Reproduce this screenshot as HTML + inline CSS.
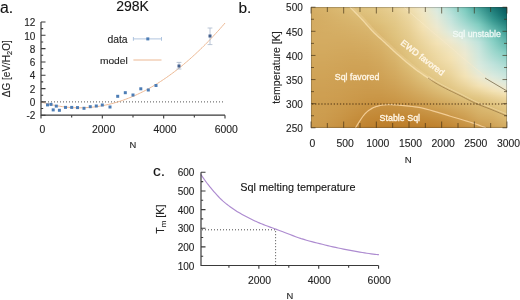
<!DOCTYPE html>
<html><head><meta charset="utf-8"><style>
html,body{margin:0;padding:0;background:#fff;width:520px;height:300px;overflow:hidden}
svg{display:block;will-change:transform}
.dk{stroke:#2a2a2a;stroke-width:0.12px}
</style></head><body>
<svg width="520" height="300" viewBox="0 0 520 300">
<defs><linearGradient id="g0"><stop offset="0.000" stop-color="#d6af65"/><stop offset="0.071" stop-color="#d8b46b"/><stop offset="0.143" stop-color="#dbba73"/><stop offset="0.214" stop-color="#dec07b"/><stop offset="0.286" stop-color="#e1c582"/><stop offset="0.357" stop-color="#e4ca8a"/><stop offset="0.429" stop-color="#e9d298"/><stop offset="0.500" stop-color="#f0dead"/><stop offset="0.571" stop-color="#efe7c9"/><stop offset="0.643" stop-color="#d7e9de"/><stop offset="0.714" stop-color="#abdcd3"/><stop offset="0.786" stop-color="#78c7bc"/><stop offset="0.857" stop-color="#42a198"/><stop offset="0.929" stop-color="#197774"/><stop offset="1.000" stop-color="#09565d"/></linearGradient><linearGradient id="g1"><stop offset="0.000" stop-color="#d5ae65"/><stop offset="0.071" stop-color="#d8b36b"/><stop offset="0.143" stop-color="#dbb972"/><stop offset="0.214" stop-color="#debf7a"/><stop offset="0.286" stop-color="#e0c481"/><stop offset="0.357" stop-color="#e3c989"/><stop offset="0.429" stop-color="#e8d196"/><stop offset="0.500" stop-color="#f0ddac"/><stop offset="0.571" stop-color="#efe7c7"/><stop offset="0.643" stop-color="#d9e9de"/><stop offset="0.714" stop-color="#adddd4"/><stop offset="0.786" stop-color="#7bc9bd"/><stop offset="0.857" stop-color="#46a39a"/><stop offset="0.929" stop-color="#1b7a76"/><stop offset="1.000" stop-color="#09585e"/></linearGradient><linearGradient id="g2"><stop offset="0.000" stop-color="#d5ae64"/><stop offset="0.071" stop-color="#d7b36a"/><stop offset="0.143" stop-color="#dab971"/><stop offset="0.214" stop-color="#ddbe79"/><stop offset="0.286" stop-color="#e0c480"/><stop offset="0.357" stop-color="#e3c888"/><stop offset="0.429" stop-color="#e8d095"/><stop offset="0.500" stop-color="#efdcaa"/><stop offset="0.571" stop-color="#efe7c6"/><stop offset="0.643" stop-color="#daeade"/><stop offset="0.714" stop-color="#afddd5"/><stop offset="0.786" stop-color="#7dcbbf"/><stop offset="0.857" stop-color="#49a59c"/><stop offset="0.929" stop-color="#1d7c78"/><stop offset="1.000" stop-color="#095a5f"/></linearGradient><linearGradient id="g3"><stop offset="0.000" stop-color="#d5ad64"/><stop offset="0.071" stop-color="#d7b269"/><stop offset="0.143" stop-color="#dab870"/><stop offset="0.214" stop-color="#ddbe78"/><stop offset="0.286" stop-color="#e0c37f"/><stop offset="0.357" stop-color="#e3c887"/><stop offset="0.429" stop-color="#e7cf94"/><stop offset="0.500" stop-color="#efdba9"/><stop offset="0.571" stop-color="#efe6c5"/><stop offset="0.643" stop-color="#dbeade"/><stop offset="0.714" stop-color="#b1ded6"/><stop offset="0.786" stop-color="#80cdc1"/><stop offset="0.857" stop-color="#4ca89f"/><stop offset="0.929" stop-color="#1f7e7a"/><stop offset="1.000" stop-color="#085c60"/></linearGradient><linearGradient id="g4"><stop offset="0.000" stop-color="#d5ad63"/><stop offset="0.071" stop-color="#d7b269"/><stop offset="0.143" stop-color="#dab770"/><stop offset="0.214" stop-color="#dcbd77"/><stop offset="0.286" stop-color="#dfc37e"/><stop offset="0.357" stop-color="#e2c786"/><stop offset="0.429" stop-color="#e7cf92"/><stop offset="0.500" stop-color="#eedba7"/><stop offset="0.571" stop-color="#f0e6c4"/><stop offset="0.643" stop-color="#ddeade"/><stop offset="0.714" stop-color="#b4dfd7"/><stop offset="0.786" stop-color="#83cec2"/><stop offset="0.857" stop-color="#50aaa1"/><stop offset="0.929" stop-color="#21817c"/><stop offset="1.000" stop-color="#085e61"/></linearGradient><linearGradient id="g5"><stop offset="0.000" stop-color="#d5ad63"/><stop offset="0.071" stop-color="#d7b168"/><stop offset="0.143" stop-color="#d9b76f"/><stop offset="0.214" stop-color="#dcbc76"/><stop offset="0.286" stop-color="#dfc27d"/><stop offset="0.357" stop-color="#e2c785"/><stop offset="0.429" stop-color="#e6ce91"/><stop offset="0.500" stop-color="#eedaa6"/><stop offset="0.571" stop-color="#f0e6c3"/><stop offset="0.643" stop-color="#deeadd"/><stop offset="0.714" stop-color="#b6e0d8"/><stop offset="0.786" stop-color="#85cfc3"/><stop offset="0.857" stop-color="#53ada3"/><stop offset="0.929" stop-color="#24837f"/><stop offset="1.000" stop-color="#086062"/></linearGradient><linearGradient id="g6"><stop offset="0.000" stop-color="#d4ac63"/><stop offset="0.071" stop-color="#d7b168"/><stop offset="0.143" stop-color="#d9b66e"/><stop offset="0.214" stop-color="#dcbb75"/><stop offset="0.286" stop-color="#dfc17c"/><stop offset="0.357" stop-color="#e2c684"/><stop offset="0.429" stop-color="#e6cd90"/><stop offset="0.500" stop-color="#edd9a4"/><stop offset="0.571" stop-color="#f0e5c1"/><stop offset="0.643" stop-color="#dfeadc"/><stop offset="0.714" stop-color="#b8e0d9"/><stop offset="0.786" stop-color="#88d0c4"/><stop offset="0.857" stop-color="#56afa5"/><stop offset="0.929" stop-color="#268681"/><stop offset="1.000" stop-color="#086263"/></linearGradient><linearGradient id="g7"><stop offset="0.000" stop-color="#d4ac62"/><stop offset="0.071" stop-color="#d6b067"/><stop offset="0.143" stop-color="#d9b56d"/><stop offset="0.214" stop-color="#dbba74"/><stop offset="0.286" stop-color="#dec07b"/><stop offset="0.357" stop-color="#e1c583"/><stop offset="0.429" stop-color="#e6cc8f"/><stop offset="0.500" stop-color="#edd8a3"/><stop offset="0.571" stop-color="#f0e5c0"/><stop offset="0.643" stop-color="#e0eadb"/><stop offset="0.714" stop-color="#bbe1da"/><stop offset="0.786" stop-color="#8ad0c5"/><stop offset="0.857" stop-color="#5ab2a8"/><stop offset="0.929" stop-color="#288983"/><stop offset="1.000" stop-color="#086464"/></linearGradient><linearGradient id="g8"><stop offset="0.000" stop-color="#d4ac62"/><stop offset="0.071" stop-color="#d6b067"/><stop offset="0.143" stop-color="#d8b56d"/><stop offset="0.214" stop-color="#dbba73"/><stop offset="0.286" stop-color="#debf7a"/><stop offset="0.357" stop-color="#e1c582"/><stop offset="0.429" stop-color="#e5cc8e"/><stop offset="0.500" stop-color="#ecd8a2"/><stop offset="0.571" stop-color="#f1e5bf"/><stop offset="0.643" stop-color="#e1eada"/><stop offset="0.714" stop-color="#bde2db"/><stop offset="0.786" stop-color="#8dd1c6"/><stop offset="0.857" stop-color="#5db4aa"/><stop offset="0.929" stop-color="#2b8b85"/><stop offset="1.000" stop-color="#0a6666"/></linearGradient><linearGradient id="g9"><stop offset="0.000" stop-color="#d4ac62"/><stop offset="0.071" stop-color="#d6b066"/><stop offset="0.143" stop-color="#d8b46c"/><stop offset="0.214" stop-color="#dab972"/><stop offset="0.286" stop-color="#ddbe79"/><stop offset="0.357" stop-color="#e0c481"/><stop offset="0.429" stop-color="#e5cb8d"/><stop offset="0.500" stop-color="#ecd7a1"/><stop offset="0.571" stop-color="#f1e5be"/><stop offset="0.643" stop-color="#e2ead9"/><stop offset="0.714" stop-color="#bfe3dc"/><stop offset="0.786" stop-color="#8fd2c7"/><stop offset="0.857" stop-color="#61b7ac"/><stop offset="0.929" stop-color="#2d8e88"/><stop offset="1.000" stop-color="#0d6968"/></linearGradient><linearGradient id="g10"><stop offset="0.000" stop-color="#d4ac62"/><stop offset="0.071" stop-color="#d6af66"/><stop offset="0.143" stop-color="#d8b46b"/><stop offset="0.214" stop-color="#dab871"/><stop offset="0.286" stop-color="#ddbe77"/><stop offset="0.357" stop-color="#e0c480"/><stop offset="0.429" stop-color="#e4cb8c"/><stop offset="0.500" stop-color="#ecd6a0"/><stop offset="0.571" stop-color="#f1e4bd"/><stop offset="0.643" stop-color="#e3ead9"/><stop offset="0.714" stop-color="#c1e3dc"/><stop offset="0.786" stop-color="#92d3c9"/><stop offset="0.857" stop-color="#65b9af"/><stop offset="0.929" stop-color="#30918a"/><stop offset="1.000" stop-color="#0f6c6b"/></linearGradient><linearGradient id="g11"><stop offset="0.000" stop-color="#d4ac61"/><stop offset="0.071" stop-color="#d6af66"/><stop offset="0.143" stop-color="#d8b36b"/><stop offset="0.214" stop-color="#dab770"/><stop offset="0.286" stop-color="#dcbd76"/><stop offset="0.357" stop-color="#e0c37f"/><stop offset="0.429" stop-color="#e4ca8b"/><stop offset="0.500" stop-color="#ebd69f"/><stop offset="0.571" stop-color="#f1e4bc"/><stop offset="0.643" stop-color="#e4ead8"/><stop offset="0.714" stop-color="#c3e4dc"/><stop offset="0.786" stop-color="#95d4ca"/><stop offset="0.857" stop-color="#68bcb1"/><stop offset="0.929" stop-color="#32948c"/><stop offset="1.000" stop-color="#126f6d"/></linearGradient><linearGradient id="g12"><stop offset="0.000" stop-color="#d4ab61"/><stop offset="0.071" stop-color="#d6af65"/><stop offset="0.143" stop-color="#d7b36a"/><stop offset="0.214" stop-color="#d9b76f"/><stop offset="0.286" stop-color="#dcbc75"/><stop offset="0.357" stop-color="#e0c37e"/><stop offset="0.429" stop-color="#e4ca8a"/><stop offset="0.500" stop-color="#ebd59e"/><stop offset="0.571" stop-color="#f1e4bb"/><stop offset="0.643" stop-color="#e5e9d7"/><stop offset="0.714" stop-color="#c4e4dc"/><stop offset="0.786" stop-color="#98d5cb"/><stop offset="0.857" stop-color="#6cbfb4"/><stop offset="0.929" stop-color="#35978f"/><stop offset="1.000" stop-color="#157270"/></linearGradient><linearGradient id="g13"><stop offset="0.000" stop-color="#d4ab61"/><stop offset="0.071" stop-color="#d5ae65"/><stop offset="0.143" stop-color="#d7b269"/><stop offset="0.214" stop-color="#d9b66e"/><stop offset="0.286" stop-color="#dcbb74"/><stop offset="0.357" stop-color="#dfc27e"/><stop offset="0.429" stop-color="#e3c989"/><stop offset="0.500" stop-color="#ead49d"/><stop offset="0.571" stop-color="#f2e4ba"/><stop offset="0.643" stop-color="#e6e9d6"/><stop offset="0.714" stop-color="#c6e4dc"/><stop offset="0.786" stop-color="#9ad6cc"/><stop offset="0.857" stop-color="#70c1b6"/><stop offset="0.929" stop-color="#399a92"/><stop offset="1.000" stop-color="#187673"/></linearGradient><linearGradient id="g14"><stop offset="0.000" stop-color="#d4ab61"/><stop offset="0.071" stop-color="#d5ae65"/><stop offset="0.143" stop-color="#d7b269"/><stop offset="0.214" stop-color="#d9b56d"/><stop offset="0.286" stop-color="#dbba73"/><stop offset="0.357" stop-color="#dfc27d"/><stop offset="0.429" stop-color="#e3c888"/><stop offset="0.500" stop-color="#ead49b"/><stop offset="0.571" stop-color="#f2e3b9"/><stop offset="0.643" stop-color="#e7e9d5"/><stop offset="0.714" stop-color="#c8e5dd"/><stop offset="0.786" stop-color="#9dd7cd"/><stop offset="0.857" stop-color="#74c4b9"/><stop offset="0.929" stop-color="#3d9d94"/><stop offset="1.000" stop-color="#1b7976"/></linearGradient><linearGradient id="g15"><stop offset="0.000" stop-color="#d4ab61"/><stop offset="0.071" stop-color="#d5ae64"/><stop offset="0.143" stop-color="#d7b168"/><stop offset="0.214" stop-color="#d8b56d"/><stop offset="0.286" stop-color="#dbb972"/><stop offset="0.357" stop-color="#dec17c"/><stop offset="0.429" stop-color="#e3c887"/><stop offset="0.500" stop-color="#ead39a"/><stop offset="0.571" stop-color="#f2e3b8"/><stop offset="0.643" stop-color="#e8e9d4"/><stop offset="0.714" stop-color="#c9e5dd"/><stop offset="0.786" stop-color="#a0d8cf"/><stop offset="0.857" stop-color="#78c7bb"/><stop offset="0.929" stop-color="#42a097"/><stop offset="1.000" stop-color="#1e7d79"/></linearGradient><linearGradient id="g16"><stop offset="0.000" stop-color="#d4ab61"/><stop offset="0.071" stop-color="#d5ae64"/><stop offset="0.143" stop-color="#d7b168"/><stop offset="0.214" stop-color="#d8b46c"/><stop offset="0.286" stop-color="#dab971"/><stop offset="0.357" stop-color="#dec07b"/><stop offset="0.429" stop-color="#e2c786"/><stop offset="0.500" stop-color="#e9d39a"/><stop offset="0.571" stop-color="#f2e3b7"/><stop offset="0.643" stop-color="#e9e9d3"/><stop offset="0.714" stop-color="#cbe6dd"/><stop offset="0.786" stop-color="#a4d9d0"/><stop offset="0.857" stop-color="#7ccabe"/><stop offset="0.929" stop-color="#46a39a"/><stop offset="1.000" stop-color="#21807c"/></linearGradient><linearGradient id="g17"><stop offset="0.000" stop-color="#d4ab61"/><stop offset="0.071" stop-color="#d5ae64"/><stop offset="0.143" stop-color="#d6b067"/><stop offset="0.214" stop-color="#d8b46b"/><stop offset="0.286" stop-color="#dab871"/><stop offset="0.357" stop-color="#debf79"/><stop offset="0.429" stop-color="#e2c786"/><stop offset="0.500" stop-color="#e9d299"/><stop offset="0.571" stop-color="#f3e3b6"/><stop offset="0.643" stop-color="#eae9d2"/><stop offset="0.714" stop-color="#cde6dd"/><stop offset="0.786" stop-color="#a7dad1"/><stop offset="0.857" stop-color="#80cdc1"/><stop offset="0.929" stop-color="#4aa69d"/><stop offset="1.000" stop-color="#24847f"/></linearGradient><linearGradient id="g18"><stop offset="0.000" stop-color="#d4ab61"/><stop offset="0.071" stop-color="#d5ad64"/><stop offset="0.143" stop-color="#d6b067"/><stop offset="0.214" stop-color="#d8b36b"/><stop offset="0.286" stop-color="#dab770"/><stop offset="0.357" stop-color="#ddbe78"/><stop offset="0.429" stop-color="#e2c785"/><stop offset="0.500" stop-color="#e9d198"/><stop offset="0.571" stop-color="#f3e2b5"/><stop offset="0.643" stop-color="#ebe9d1"/><stop offset="0.714" stop-color="#cfe7dd"/><stop offset="0.786" stop-color="#aadbd3"/><stop offset="0.857" stop-color="#83cec2"/><stop offset="0.929" stop-color="#4faaa0"/><stop offset="1.000" stop-color="#278782"/></linearGradient><linearGradient id="g19"><stop offset="0.000" stop-color="#d4ab61"/><stop offset="0.071" stop-color="#d5ad64"/><stop offset="0.143" stop-color="#d6b066"/><stop offset="0.214" stop-color="#d7b26a"/><stop offset="0.286" stop-color="#d9b66f"/><stop offset="0.357" stop-color="#ddbd77"/><stop offset="0.429" stop-color="#e2c684"/><stop offset="0.500" stop-color="#e8d197"/><stop offset="0.571" stop-color="#f3e2b4"/><stop offset="0.643" stop-color="#ece9d0"/><stop offset="0.714" stop-color="#d1e7dd"/><stop offset="0.786" stop-color="#aeddd4"/><stop offset="0.857" stop-color="#87cfc4"/><stop offset="0.929" stop-color="#53ada3"/><stop offset="1.000" stop-color="#2a8b85"/></linearGradient><linearGradient id="g20"><stop offset="0.000" stop-color="#d4ab61"/><stop offset="0.071" stop-color="#d5ad63"/><stop offset="0.143" stop-color="#d6af66"/><stop offset="0.214" stop-color="#d7b269"/><stop offset="0.286" stop-color="#d9b66e"/><stop offset="0.357" stop-color="#dcbd76"/><stop offset="0.429" stop-color="#e1c683"/><stop offset="0.500" stop-color="#e8d096"/><stop offset="0.571" stop-color="#f3e1b3"/><stop offset="0.643" stop-color="#ede9cf"/><stop offset="0.714" stop-color="#d3e8dd"/><stop offset="0.786" stop-color="#b1ded6"/><stop offset="0.857" stop-color="#8bd1c5"/><stop offset="0.929" stop-color="#57b0a6"/><stop offset="1.000" stop-color="#2d8e87"/></linearGradient><linearGradient id="g21"><stop offset="0.000" stop-color="#d4ab61"/><stop offset="0.071" stop-color="#d5ad63"/><stop offset="0.143" stop-color="#d6af65"/><stop offset="0.214" stop-color="#d7b169"/><stop offset="0.286" stop-color="#d9b56d"/><stop offset="0.357" stop-color="#dcbc75"/><stop offset="0.429" stop-color="#e1c582"/><stop offset="0.500" stop-color="#e8d095"/><stop offset="0.571" stop-color="#f2e0b1"/><stop offset="0.643" stop-color="#eee8cd"/><stop offset="0.714" stop-color="#d5e8de"/><stop offset="0.786" stop-color="#b5dfd7"/><stop offset="0.857" stop-color="#8ed2c7"/><stop offset="0.929" stop-color="#5cb3a9"/><stop offset="1.000" stop-color="#30918a"/></linearGradient><linearGradient id="g22"><stop offset="0.000" stop-color="#d4ab61"/><stop offset="0.071" stop-color="#d5ad63"/><stop offset="0.143" stop-color="#d5af65"/><stop offset="0.214" stop-color="#d7b168"/><stop offset="0.286" stop-color="#d8b56c"/><stop offset="0.357" stop-color="#dcbb75"/><stop offset="0.429" stop-color="#e1c582"/><stop offset="0.500" stop-color="#e7cf94"/><stop offset="0.571" stop-color="#f2e0b0"/><stop offset="0.643" stop-color="#eee8cc"/><stop offset="0.714" stop-color="#d7e9de"/><stop offset="0.786" stop-color="#b9e1d9"/><stop offset="0.857" stop-color="#92d3c9"/><stop offset="0.929" stop-color="#60b6ac"/><stop offset="1.000" stop-color="#33958d"/></linearGradient><linearGradient id="g23"><stop offset="0.000" stop-color="#d4ab61"/><stop offset="0.071" stop-color="#d5ad63"/><stop offset="0.143" stop-color="#d5ae65"/><stop offset="0.214" stop-color="#d6b067"/><stop offset="0.286" stop-color="#d8b46c"/><stop offset="0.357" stop-color="#dbba74"/><stop offset="0.429" stop-color="#e0c481"/><stop offset="0.500" stop-color="#e7cf93"/><stop offset="0.571" stop-color="#f1dfaf"/><stop offset="0.643" stop-color="#eee7ca"/><stop offset="0.714" stop-color="#dae9de"/><stop offset="0.786" stop-color="#bde2db"/><stop offset="0.857" stop-color="#96d4ca"/><stop offset="0.929" stop-color="#64b9ae"/><stop offset="1.000" stop-color="#369890"/></linearGradient><linearGradient id="g24"><stop offset="0.000" stop-color="#d4ab61"/><stop offset="0.071" stop-color="#d4ad63"/><stop offset="0.143" stop-color="#d5ae64"/><stop offset="0.214" stop-color="#d6b067"/><stop offset="0.286" stop-color="#d8b36b"/><stop offset="0.357" stop-color="#dbba73"/><stop offset="0.429" stop-color="#e0c480"/><stop offset="0.500" stop-color="#e7ce92"/><stop offset="0.571" stop-color="#f1dead"/><stop offset="0.643" stop-color="#efe7c8"/><stop offset="0.714" stop-color="#dceade"/><stop offset="0.786" stop-color="#c1e3dc"/><stop offset="0.857" stop-color="#99d6cc"/><stop offset="0.929" stop-color="#68bcb1"/><stop offset="1.000" stop-color="#3b9b93"/></linearGradient><linearGradient id="g25"><stop offset="0.000" stop-color="#d4ab61"/><stop offset="0.071" stop-color="#d4ac62"/><stop offset="0.143" stop-color="#d5ae64"/><stop offset="0.214" stop-color="#d6af66"/><stop offset="0.286" stop-color="#d7b36a"/><stop offset="0.357" stop-color="#dbb972"/><stop offset="0.429" stop-color="#e0c480"/><stop offset="0.500" stop-color="#e6ce91"/><stop offset="0.571" stop-color="#f0ddac"/><stop offset="0.643" stop-color="#efe7c7"/><stop offset="0.714" stop-color="#deeadd"/><stop offset="0.786" stop-color="#c4e4dc"/><stop offset="0.857" stop-color="#9dd7cd"/><stop offset="0.929" stop-color="#6cbfb4"/><stop offset="1.000" stop-color="#3f9e96"/></linearGradient><linearGradient id="g26"><stop offset="0.000" stop-color="#d4ab61"/><stop offset="0.071" stop-color="#d4ac62"/><stop offset="0.143" stop-color="#d5ad63"/><stop offset="0.214" stop-color="#d6af66"/><stop offset="0.286" stop-color="#d7b269"/><stop offset="0.357" stop-color="#dab871"/><stop offset="0.429" stop-color="#e0c37f"/><stop offset="0.500" stop-color="#e6cd90"/><stop offset="0.571" stop-color="#f0dcaa"/><stop offset="0.643" stop-color="#efe6c5"/><stop offset="0.714" stop-color="#e0eadb"/><stop offset="0.786" stop-color="#c6e5dc"/><stop offset="0.857" stop-color="#a1d8cf"/><stop offset="0.929" stop-color="#70c1b6"/><stop offset="1.000" stop-color="#43a198"/></linearGradient><linearGradient id="g27"><stop offset="0.000" stop-color="#d4ab61"/><stop offset="0.071" stop-color="#d4ac62"/><stop offset="0.143" stop-color="#d5ad63"/><stop offset="0.214" stop-color="#d5ae65"/><stop offset="0.286" stop-color="#d7b169"/><stop offset="0.357" stop-color="#dab870"/><stop offset="0.429" stop-color="#dfc37e"/><stop offset="0.500" stop-color="#e6cd90"/><stop offset="0.571" stop-color="#efdca9"/><stop offset="0.643" stop-color="#f0e6c3"/><stop offset="0.714" stop-color="#e1eada"/><stop offset="0.786" stop-color="#c9e5dd"/><stop offset="0.857" stop-color="#a5dad0"/><stop offset="0.929" stop-color="#73c4b9"/><stop offset="1.000" stop-color="#46a49b"/></linearGradient><linearGradient id="g28"><stop offset="0.000" stop-color="#d4ab61"/><stop offset="0.071" stop-color="#d4ac62"/><stop offset="0.143" stop-color="#d4ad63"/><stop offset="0.214" stop-color="#d5ae64"/><stop offset="0.286" stop-color="#d7b168"/><stop offset="0.357" stop-color="#dab76f"/><stop offset="0.429" stop-color="#dfc27e"/><stop offset="0.500" stop-color="#e5cc8f"/><stop offset="0.571" stop-color="#efdba8"/><stop offset="0.643" stop-color="#f0e5c1"/><stop offset="0.714" stop-color="#e3ead8"/><stop offset="0.786" stop-color="#cce6dd"/><stop offset="0.857" stop-color="#a8dbd2"/><stop offset="0.929" stop-color="#77c6bb"/><stop offset="1.000" stop-color="#4aa69d"/></linearGradient><linearGradient id="g29"><stop offset="0.000" stop-color="#d4ab61"/><stop offset="0.071" stop-color="#d4ac62"/><stop offset="0.143" stop-color="#d4ac62"/><stop offset="0.214" stop-color="#d5ae64"/><stop offset="0.286" stop-color="#d6b067"/><stop offset="0.357" stop-color="#d9b66f"/><stop offset="0.429" stop-color="#dfc27d"/><stop offset="0.500" stop-color="#e5cc8e"/><stop offset="0.571" stop-color="#eedaa6"/><stop offset="0.643" stop-color="#f1e5bf"/><stop offset="0.714" stop-color="#e5e9d6"/><stop offset="0.786" stop-color="#cfe7dd"/><stop offset="0.857" stop-color="#acdcd3"/><stop offset="0.929" stop-color="#7ac9bd"/><stop offset="1.000" stop-color="#4da89f"/></linearGradient><linearGradient id="g30"><stop offset="0.000" stop-color="#d4ab61"/><stop offset="0.071" stop-color="#d4ac62"/><stop offset="0.143" stop-color="#d4ac62"/><stop offset="0.214" stop-color="#d5ad63"/><stop offset="0.286" stop-color="#d6b067"/><stop offset="0.357" stop-color="#d9b66e"/><stop offset="0.429" stop-color="#dfc17c"/><stop offset="0.500" stop-color="#e5cb8d"/><stop offset="0.571" stop-color="#eed9a5"/><stop offset="0.643" stop-color="#f1e4be"/><stop offset="0.714" stop-color="#e7e9d5"/><stop offset="0.786" stop-color="#d2e7dd"/><stop offset="0.857" stop-color="#afddd5"/><stop offset="0.929" stop-color="#7ecbbf"/><stop offset="1.000" stop-color="#50aaa1"/></linearGradient><linearGradient id="g31"><stop offset="0.000" stop-color="#d4ab61"/><stop offset="0.071" stop-color="#d4ac61"/><stop offset="0.143" stop-color="#d4ac61"/><stop offset="0.214" stop-color="#d4ad63"/><stop offset="0.286" stop-color="#d6af66"/><stop offset="0.357" stop-color="#d9b56d"/><stop offset="0.429" stop-color="#dec17b"/><stop offset="0.500" stop-color="#e5cb8c"/><stop offset="0.571" stop-color="#edd9a4"/><stop offset="0.643" stop-color="#f1e4bc"/><stop offset="0.714" stop-color="#e9e9d3"/><stop offset="0.786" stop-color="#d5e8dd"/><stop offset="0.857" stop-color="#b3ded6"/><stop offset="0.929" stop-color="#81cdc1"/><stop offset="1.000" stop-color="#53ada3"/></linearGradient><linearGradient id="g32"><stop offset="0.000" stop-color="#d4ab61"/><stop offset="0.071" stop-color="#d4ab61"/><stop offset="0.143" stop-color="#d4ab61"/><stop offset="0.214" stop-color="#d4ac62"/><stop offset="0.286" stop-color="#d6af65"/><stop offset="0.357" stop-color="#d8b46c"/><stop offset="0.429" stop-color="#dec07a"/><stop offset="0.500" stop-color="#e4ca8b"/><stop offset="0.571" stop-color="#edd8a2"/><stop offset="0.643" stop-color="#f2e4ba"/><stop offset="0.714" stop-color="#ebe9d2"/><stop offset="0.786" stop-color="#d8e9de"/><stop offset="0.857" stop-color="#b6e0d8"/><stop offset="0.929" stop-color="#83cec2"/><stop offset="1.000" stop-color="#56afa5"/></linearGradient><linearGradient id="g33"><stop offset="0.000" stop-color="#d4ab61"/><stop offset="0.071" stop-color="#d4ab61"/><stop offset="0.143" stop-color="#d4ab61"/><stop offset="0.214" stop-color="#d4ac62"/><stop offset="0.286" stop-color="#d5ae65"/><stop offset="0.357" stop-color="#d8b46c"/><stop offset="0.429" stop-color="#debf7a"/><stop offset="0.500" stop-color="#e4ca8b"/><stop offset="0.571" stop-color="#ecd7a1"/><stop offset="0.643" stop-color="#f2e3b9"/><stop offset="0.714" stop-color="#ede9d0"/><stop offset="0.786" stop-color="#daeade"/><stop offset="0.857" stop-color="#b9e1d9"/><stop offset="0.929" stop-color="#86cfc3"/><stop offset="1.000" stop-color="#59b1a7"/></linearGradient><linearGradient id="g34"><stop offset="0.000" stop-color="#d4ab60"/><stop offset="0.071" stop-color="#d4ab61"/><stop offset="0.143" stop-color="#d4ab60"/><stop offset="0.214" stop-color="#d4ab61"/><stop offset="0.286" stop-color="#d5ae64"/><stop offset="0.357" stop-color="#d8b36b"/><stop offset="0.429" stop-color="#ddbe79"/><stop offset="0.500" stop-color="#e4ca8a"/><stop offset="0.571" stop-color="#ecd6a0"/><stop offset="0.643" stop-color="#f2e3b7"/><stop offset="0.714" stop-color="#ede9ce"/><stop offset="0.786" stop-color="#ddeadd"/><stop offset="0.857" stop-color="#bde2db"/><stop offset="0.929" stop-color="#88d0c5"/><stop offset="1.000" stop-color="#5cb3a9"/></linearGradient><linearGradient id="g35"><stop offset="0.000" stop-color="#d4ab60"/><stop offset="0.071" stop-color="#d4ab61"/><stop offset="0.143" stop-color="#d3aa60"/><stop offset="0.214" stop-color="#d4ab61"/><stop offset="0.286" stop-color="#d5ad63"/><stop offset="0.357" stop-color="#d7b36a"/><stop offset="0.429" stop-color="#ddbe78"/><stop offset="0.500" stop-color="#e3c989"/><stop offset="0.571" stop-color="#ebd69f"/><stop offset="0.643" stop-color="#f3e2b6"/><stop offset="0.714" stop-color="#eee8cc"/><stop offset="0.786" stop-color="#dfeadc"/><stop offset="0.857" stop-color="#c0e3dc"/><stop offset="0.929" stop-color="#8bd1c6"/><stop offset="1.000" stop-color="#5eb5ab"/></linearGradient><linearGradient id="g36"><stop offset="0.000" stop-color="#d3ab60"/><stop offset="0.071" stop-color="#d4ab60"/><stop offset="0.143" stop-color="#d3aa60"/><stop offset="0.214" stop-color="#d3aa60"/><stop offset="0.286" stop-color="#d4ad63"/><stop offset="0.357" stop-color="#d7b269"/><stop offset="0.429" stop-color="#ddbd77"/><stop offset="0.500" stop-color="#e3c988"/><stop offset="0.571" stop-color="#ebd59e"/><stop offset="0.643" stop-color="#f3e2b4"/><stop offset="0.714" stop-color="#eee7ca"/><stop offset="0.786" stop-color="#e0eada"/><stop offset="0.857" stop-color="#c1e3dc"/><stop offset="0.929" stop-color="#8dd2c7"/><stop offset="1.000" stop-color="#61b7ac"/></linearGradient><linearGradient id="g37"><stop offset="0.000" stop-color="#d3aa60"/><stop offset="0.071" stop-color="#d3ab60"/><stop offset="0.143" stop-color="#d3aa5f"/><stop offset="0.214" stop-color="#d3aa60"/><stop offset="0.286" stop-color="#d4ac62"/><stop offset="0.357" stop-color="#d7b269"/><stop offset="0.429" stop-color="#dcbc76"/><stop offset="0.500" stop-color="#e3c888"/><stop offset="0.571" stop-color="#ead49d"/><stop offset="0.643" stop-color="#f3e1b3"/><stop offset="0.714" stop-color="#efe7c7"/><stop offset="0.786" stop-color="#e2ead9"/><stop offset="0.857" stop-color="#c3e4dc"/><stop offset="0.929" stop-color="#8fd2c8"/><stop offset="1.000" stop-color="#64b9ae"/></linearGradient><linearGradient id="g38"><stop offset="0.000" stop-color="#d3aa60"/><stop offset="0.071" stop-color="#d3aa60"/><stop offset="0.143" stop-color="#d3aa5f"/><stop offset="0.214" stop-color="#d3aa5f"/><stop offset="0.286" stop-color="#d4ac61"/><stop offset="0.357" stop-color="#d7b168"/><stop offset="0.429" stop-color="#dcbc75"/><stop offset="0.500" stop-color="#e3c887"/><stop offset="0.571" stop-color="#ead49b"/><stop offset="0.643" stop-color="#f2e0b1"/><stop offset="0.714" stop-color="#efe6c5"/><stop offset="0.786" stop-color="#e3ead8"/><stop offset="0.857" stop-color="#c5e4dc"/><stop offset="0.929" stop-color="#92d3c8"/><stop offset="1.000" stop-color="#67bbb0"/></linearGradient><linearGradient id="g39"><stop offset="0.000" stop-color="#d3aa5f"/><stop offset="0.071" stop-color="#d3aa60"/><stop offset="0.143" stop-color="#d3a95f"/><stop offset="0.214" stop-color="#d3a95f"/><stop offset="0.286" stop-color="#d4ab61"/><stop offset="0.357" stop-color="#d6b067"/><stop offset="0.429" stop-color="#dcbb75"/><stop offset="0.500" stop-color="#e2c786"/><stop offset="0.571" stop-color="#ead39a"/><stop offset="0.643" stop-color="#f1dfaf"/><stop offset="0.714" stop-color="#f0e6c3"/><stop offset="0.786" stop-color="#e5e9d7"/><stop offset="0.857" stop-color="#c6e5dc"/><stop offset="0.929" stop-color="#94d4c9"/><stop offset="1.000" stop-color="#6abdb2"/></linearGradient><linearGradient id="g40"><stop offset="0.000" stop-color="#d3aa5f"/><stop offset="0.071" stop-color="#d3aa5f"/><stop offset="0.143" stop-color="#d3a95e"/><stop offset="0.214" stop-color="#d3a95e"/><stop offset="0.286" stop-color="#d3ab60"/><stop offset="0.357" stop-color="#d6b067"/><stop offset="0.429" stop-color="#dbba74"/><stop offset="0.500" stop-color="#e2c785"/><stop offset="0.571" stop-color="#e9d399"/><stop offset="0.643" stop-color="#f1deae"/><stop offset="0.714" stop-color="#f0e5c2"/><stop offset="0.786" stop-color="#e6e9d6"/><stop offset="0.857" stop-color="#c7e5dd"/><stop offset="0.929" stop-color="#96d5ca"/><stop offset="1.000" stop-color="#6dc0b5"/></linearGradient><linearGradient id="g41"><stop offset="0.000" stop-color="#d3aa5f"/><stop offset="0.071" stop-color="#d3aa5f"/><stop offset="0.143" stop-color="#d3a95e"/><stop offset="0.214" stop-color="#d2a85d"/><stop offset="0.286" stop-color="#d3aa60"/><stop offset="0.357" stop-color="#d6af66"/><stop offset="0.429" stop-color="#dbba73"/><stop offset="0.500" stop-color="#e2c685"/><stop offset="0.571" stop-color="#e9d298"/><stop offset="0.643" stop-color="#f0deac"/><stop offset="0.714" stop-color="#f0e5c0"/><stop offset="0.786" stop-color="#e7e9d5"/><stop offset="0.857" stop-color="#c9e5dd"/><stop offset="0.929" stop-color="#98d5cb"/><stop offset="1.000" stop-color="#71c2b7"/></linearGradient><linearGradient id="g42"><stop offset="0.000" stop-color="#d3a95f"/><stop offset="0.071" stop-color="#d3aa5f"/><stop offset="0.143" stop-color="#d2a85d"/><stop offset="0.214" stop-color="#d2a85d"/><stop offset="0.286" stop-color="#d3aa5f"/><stop offset="0.357" stop-color="#d6af65"/><stop offset="0.429" stop-color="#dbb972"/><stop offset="0.500" stop-color="#e2c684"/><stop offset="0.571" stop-color="#e9d197"/><stop offset="0.643" stop-color="#f0ddab"/><stop offset="0.714" stop-color="#f1e5be"/><stop offset="0.786" stop-color="#e8e9d4"/><stop offset="0.857" stop-color="#cae5dd"/><stop offset="0.929" stop-color="#9bd6cc"/><stop offset="1.000" stop-color="#74c5b9"/></linearGradient><linearGradient id="g43"><stop offset="0.000" stop-color="#d3a95e"/><stop offset="0.071" stop-color="#d3a95f"/><stop offset="0.143" stop-color="#d2a85d"/><stop offset="0.214" stop-color="#d2a85d"/><stop offset="0.286" stop-color="#d3a95e"/><stop offset="0.357" stop-color="#d5ae65"/><stop offset="0.429" stop-color="#dab971"/><stop offset="0.500" stop-color="#e1c683"/><stop offset="0.571" stop-color="#e8d197"/><stop offset="0.643" stop-color="#efdcaa"/><stop offset="0.714" stop-color="#f1e4bd"/><stop offset="0.786" stop-color="#e9e9d3"/><stop offset="0.857" stop-color="#cbe6dd"/><stop offset="0.929" stop-color="#9dd7cd"/><stop offset="1.000" stop-color="#78c7bc"/></linearGradient><linearGradient id="g44"><stop offset="0.000" stop-color="#d3a95e"/><stop offset="0.071" stop-color="#d3a95e"/><stop offset="0.143" stop-color="#d2a85d"/><stop offset="0.214" stop-color="#d2a75c"/><stop offset="0.286" stop-color="#d3a95e"/><stop offset="0.357" stop-color="#d5ae64"/><stop offset="0.429" stop-color="#dab871"/><stop offset="0.500" stop-color="#e1c583"/><stop offset="0.571" stop-color="#e8d096"/><stop offset="0.643" stop-color="#efdba9"/><stop offset="0.714" stop-color="#f1e4bc"/><stop offset="0.786" stop-color="#eae9d2"/><stop offset="0.857" stop-color="#cce6dd"/><stop offset="0.929" stop-color="#9fd8ce"/><stop offset="1.000" stop-color="#7ccabe"/></linearGradient><linearGradient id="g45"><stop offset="0.000" stop-color="#d3a95e"/><stop offset="0.071" stop-color="#d3a95e"/><stop offset="0.143" stop-color="#d2a85c"/><stop offset="0.214" stop-color="#d2a75c"/><stop offset="0.286" stop-color="#d2a85d"/><stop offset="0.357" stop-color="#d5ad63"/><stop offset="0.429" stop-color="#dab770"/><stop offset="0.500" stop-color="#e1c582"/><stop offset="0.571" stop-color="#e8d095"/><stop offset="0.643" stop-color="#eedba8"/><stop offset="0.714" stop-color="#f2e4ba"/><stop offset="0.786" stop-color="#ebe9d2"/><stop offset="0.857" stop-color="#cde6dd"/><stop offset="0.929" stop-color="#a1d9cf"/><stop offset="1.000" stop-color="#7fcdc1"/></linearGradient><linearGradient id="g46"><stop offset="0.000" stop-color="#d2a95e"/><stop offset="0.071" stop-color="#d2a95e"/><stop offset="0.143" stop-color="#d2a75c"/><stop offset="0.214" stop-color="#d1a65b"/><stop offset="0.286" stop-color="#d2a85d"/><stop offset="0.357" stop-color="#d5ad63"/><stop offset="0.429" stop-color="#d9b76f"/><stop offset="0.500" stop-color="#e1c481"/><stop offset="0.571" stop-color="#e7cf94"/><stop offset="0.643" stop-color="#eedaa6"/><stop offset="0.714" stop-color="#f2e3b9"/><stop offset="0.786" stop-color="#ece9d1"/><stop offset="0.857" stop-color="#cee7dd"/><stop offset="0.929" stop-color="#a4d9d0"/><stop offset="1.000" stop-color="#83cec2"/></linearGradient><linearGradient id="g47"><stop offset="0.000" stop-color="#d2a85d"/><stop offset="0.071" stop-color="#d2a85d"/><stop offset="0.143" stop-color="#d2a75c"/><stop offset="0.214" stop-color="#d1a65b"/><stop offset="0.286" stop-color="#d2a75c"/><stop offset="0.357" stop-color="#d4ac62"/><stop offset="0.429" stop-color="#d9b66e"/><stop offset="0.500" stop-color="#e0c480"/><stop offset="0.571" stop-color="#e7cf93"/><stop offset="0.643" stop-color="#eedaa5"/><stop offset="0.714" stop-color="#f2e3b8"/><stop offset="0.786" stop-color="#ede9d0"/><stop offset="0.857" stop-color="#cfe7dd"/><stop offset="0.929" stop-color="#a6dad1"/><stop offset="1.000" stop-color="#86cfc4"/></linearGradient><linearGradient id="g48"><stop offset="0.000" stop-color="#d2a85d"/><stop offset="0.071" stop-color="#d2a85d"/><stop offset="0.143" stop-color="#d2a75b"/><stop offset="0.214" stop-color="#d1a65a"/><stop offset="0.286" stop-color="#d2a75c"/><stop offset="0.357" stop-color="#d4ac62"/><stop offset="0.429" stop-color="#d9b56d"/><stop offset="0.500" stop-color="#e0c480"/><stop offset="0.571" stop-color="#e7ce92"/><stop offset="0.643" stop-color="#edd9a4"/><stop offset="0.714" stop-color="#f2e3b7"/><stop offset="0.786" stop-color="#ede9cf"/><stop offset="0.857" stop-color="#d0e7dd"/><stop offset="0.929" stop-color="#a9dbd2"/><stop offset="1.000" stop-color="#89d0c5"/></linearGradient><linearGradient id="g49"><stop offset="0.000" stop-color="#d2a85d"/><stop offset="0.071" stop-color="#d2a85d"/><stop offset="0.143" stop-color="#d1a65b"/><stop offset="0.214" stop-color="#d1a55a"/><stop offset="0.286" stop-color="#d1a65b"/><stop offset="0.357" stop-color="#d4ab61"/><stop offset="0.429" stop-color="#d8b56d"/><stop offset="0.500" stop-color="#e0c37f"/><stop offset="0.571" stop-color="#e6ce91"/><stop offset="0.643" stop-color="#edd8a4"/><stop offset="0.714" stop-color="#f3e2b5"/><stop offset="0.786" stop-color="#ede9ce"/><stop offset="0.857" stop-color="#d1e7dd"/><stop offset="0.929" stop-color="#abdcd3"/><stop offset="1.000" stop-color="#8dd1c6"/></linearGradient><linearGradient id="g50"><stop offset="0.000" stop-color="#d2a85d"/><stop offset="0.071" stop-color="#d2a85c"/><stop offset="0.143" stop-color="#d1a65b"/><stop offset="0.214" stop-color="#d1a559"/><stop offset="0.286" stop-color="#d1a65b"/><stop offset="0.357" stop-color="#d4ab60"/><stop offset="0.429" stop-color="#d8b46c"/><stop offset="0.500" stop-color="#dfc37e"/><stop offset="0.571" stop-color="#e6cd90"/><stop offset="0.643" stop-color="#edd8a3"/><stop offset="0.714" stop-color="#f3e2b4"/><stop offset="0.786" stop-color="#eee8cd"/><stop offset="0.857" stop-color="#d2e7dd"/><stop offset="0.929" stop-color="#adddd4"/><stop offset="1.000" stop-color="#90d3c8"/></linearGradient><linearGradient id="g51"><stop offset="0.000" stop-color="#d2a75c"/><stop offset="0.071" stop-color="#d2a75c"/><stop offset="0.143" stop-color="#d1a65a"/><stop offset="0.214" stop-color="#d1a559"/><stop offset="0.286" stop-color="#d1a65a"/><stop offset="0.357" stop-color="#d3aa60"/><stop offset="0.429" stop-color="#d8b46b"/><stop offset="0.500" stop-color="#dfc27e"/><stop offset="0.571" stop-color="#e6cd8f"/><stop offset="0.643" stop-color="#ecd7a2"/><stop offset="0.714" stop-color="#f3e1b3"/><stop offset="0.786" stop-color="#eee8cc"/><stop offset="0.857" stop-color="#d3e8dd"/><stop offset="0.929" stop-color="#b0ddd5"/><stop offset="1.000" stop-color="#94d4c9"/></linearGradient><linearGradient id="g52"><stop offset="0.000" stop-color="#d2a75c"/><stop offset="0.071" stop-color="#d2a75c"/><stop offset="0.143" stop-color="#d1a65a"/><stop offset="0.214" stop-color="#d0a458"/><stop offset="0.286" stop-color="#d1a559"/><stop offset="0.357" stop-color="#d3aa5f"/><stop offset="0.429" stop-color="#d8b36a"/><stop offset="0.500" stop-color="#dfc27d"/><stop offset="0.571" stop-color="#e5cc8f"/><stop offset="0.643" stop-color="#ecd7a1"/><stop offset="0.714" stop-color="#f2e1b2"/><stop offset="0.786" stop-color="#eee8cb"/><stop offset="0.857" stop-color="#d4e8dd"/><stop offset="0.929" stop-color="#b3ded6"/><stop offset="1.000" stop-color="#97d5cb"/></linearGradient><linearGradient id="g53"><stop offset="0.000" stop-color="#d2a75c"/><stop offset="0.071" stop-color="#d2a75c"/><stop offset="0.143" stop-color="#d1a55a"/><stop offset="0.214" stop-color="#d0a458"/><stop offset="0.286" stop-color="#d1a559"/><stop offset="0.357" stop-color="#d3a95e"/><stop offset="0.429" stop-color="#d7b26a"/><stop offset="0.500" stop-color="#dfc17c"/><stop offset="0.571" stop-color="#e5cc8e"/><stop offset="0.643" stop-color="#ecd69f"/><stop offset="0.714" stop-color="#f2e0b0"/><stop offset="0.786" stop-color="#eee8ca"/><stop offset="0.857" stop-color="#d5e8dd"/><stop offset="0.929" stop-color="#b5dfd7"/><stop offset="1.000" stop-color="#9ad6cc"/></linearGradient><linearGradient id="g54"><stop offset="0.000" stop-color="#d2a75b"/><stop offset="0.071" stop-color="#d1a75b"/><stop offset="0.143" stop-color="#d1a559"/><stop offset="0.214" stop-color="#d0a457"/><stop offset="0.286" stop-color="#d0a458"/><stop offset="0.357" stop-color="#d3a95e"/><stop offset="0.429" stop-color="#d7b269"/><stop offset="0.500" stop-color="#dec07b"/><stop offset="0.571" stop-color="#e5cb8d"/><stop offset="0.643" stop-color="#ebd59e"/><stop offset="0.714" stop-color="#f1dfaf"/><stop offset="0.786" stop-color="#eee7c9"/><stop offset="0.857" stop-color="#d6e9de"/><stop offset="0.929" stop-color="#b8e0d9"/><stop offset="1.000" stop-color="#9ed7ce"/></linearGradient><linearGradient id="g55"><stop offset="0.000" stop-color="#d1a65b"/><stop offset="0.071" stop-color="#d1a65b"/><stop offset="0.143" stop-color="#d1a559"/><stop offset="0.214" stop-color="#d0a357"/><stop offset="0.286" stop-color="#d0a458"/><stop offset="0.357" stop-color="#d2a85d"/><stop offset="0.429" stop-color="#d7b168"/><stop offset="0.500" stop-color="#debf7a"/><stop offset="0.571" stop-color="#e4cb8c"/><stop offset="0.643" stop-color="#ebd59d"/><stop offset="0.714" stop-color="#f1dead"/><stop offset="0.786" stop-color="#efe7c8"/><stop offset="0.857" stop-color="#d7e9de"/><stop offset="0.929" stop-color="#bbe1da"/><stop offset="1.000" stop-color="#a1d8cf"/></linearGradient><linearGradient id="g56"><stop offset="0.000" stop-color="#d1a65b"/><stop offset="0.071" stop-color="#d1a65b"/><stop offset="0.143" stop-color="#d0a459"/><stop offset="0.214" stop-color="#d0a357"/><stop offset="0.286" stop-color="#d0a357"/><stop offset="0.357" stop-color="#d2a85d"/><stop offset="0.429" stop-color="#d6b067"/><stop offset="0.500" stop-color="#ddbf79"/><stop offset="0.571" stop-color="#e4ca8b"/><stop offset="0.643" stop-color="#ead49c"/><stop offset="0.714" stop-color="#f0ddac"/><stop offset="0.786" stop-color="#efe7c7"/><stop offset="0.857" stop-color="#d8e9de"/><stop offset="0.929" stop-color="#bde2db"/><stop offset="1.000" stop-color="#a4d9d0"/></linearGradient><linearGradient id="g57"><stop offset="0.000" stop-color="#d1a65a"/><stop offset="0.071" stop-color="#d1a65a"/><stop offset="0.143" stop-color="#d0a458"/><stop offset="0.214" stop-color="#d0a356"/><stop offset="0.286" stop-color="#d0a357"/><stop offset="0.357" stop-color="#d2a75c"/><stop offset="0.429" stop-color="#d6b067"/><stop offset="0.500" stop-color="#ddbe78"/><stop offset="0.571" stop-color="#e4c98a"/><stop offset="0.643" stop-color="#ead39a"/><stop offset="0.714" stop-color="#efdcaa"/><stop offset="0.786" stop-color="#efe6c6"/><stop offset="0.857" stop-color="#dae9de"/><stop offset="0.929" stop-color="#c0e3dc"/><stop offset="1.000" stop-color="#a7dad2"/></linearGradient><linearGradient id="g58"><stop offset="0.000" stop-color="#d1a65a"/><stop offset="0.071" stop-color="#d1a65a"/><stop offset="0.143" stop-color="#d0a458"/><stop offset="0.214" stop-color="#cfa256"/><stop offset="0.286" stop-color="#d0a357"/><stop offset="0.357" stop-color="#d2a75c"/><stop offset="0.429" stop-color="#d6af66"/><stop offset="0.500" stop-color="#dcbd77"/><stop offset="0.571" stop-color="#e3c989"/><stop offset="0.643" stop-color="#e9d299"/><stop offset="0.714" stop-color="#efdca9"/><stop offset="0.786" stop-color="#efe6c4"/><stop offset="0.857" stop-color="#dbeade"/><stop offset="0.929" stop-color="#c2e4dc"/><stop offset="1.000" stop-color="#aadcd3"/></linearGradient><linearGradient id="g59"><stop offset="0.000" stop-color="#d1a55a"/><stop offset="0.071" stop-color="#d1a55a"/><stop offset="0.143" stop-color="#d0a458"/><stop offset="0.214" stop-color="#cfa256"/><stop offset="0.286" stop-color="#cfa256"/><stop offset="0.357" stop-color="#d1a65b"/><stop offset="0.429" stop-color="#d5af65"/><stop offset="0.500" stop-color="#dcbc76"/><stop offset="0.571" stop-color="#e3c888"/><stop offset="0.643" stop-color="#e9d298"/><stop offset="0.714" stop-color="#eedba7"/><stop offset="0.786" stop-color="#f0e6c3"/><stop offset="0.857" stop-color="#dceade"/><stop offset="0.929" stop-color="#c4e4dc"/><stop offset="1.000" stop-color="#adddd4"/></linearGradient><linearGradient id="g60"><stop offset="0.000" stop-color="#d1a55a"/><stop offset="0.071" stop-color="#d1a559"/><stop offset="0.143" stop-color="#d0a357"/><stop offset="0.214" stop-color="#cfa255"/><stop offset="0.286" stop-color="#cfa256"/><stop offset="0.357" stop-color="#d1a65a"/><stop offset="0.429" stop-color="#d5ae64"/><stop offset="0.500" stop-color="#dcbb74"/><stop offset="0.571" stop-color="#e3c887"/><stop offset="0.643" stop-color="#e8d196"/><stop offset="0.714" stop-color="#eedaa6"/><stop offset="0.786" stop-color="#f0e5c2"/><stop offset="0.857" stop-color="#ddeadd"/><stop offset="0.929" stop-color="#c6e4dc"/><stop offset="1.000" stop-color="#b0ded5"/></linearGradient><linearGradient id="g61"><stop offset="0.000" stop-color="#d1a559"/><stop offset="0.071" stop-color="#d1a559"/><stop offset="0.143" stop-color="#d0a357"/><stop offset="0.214" stop-color="#cfa155"/><stop offset="0.286" stop-color="#cfa255"/><stop offset="0.357" stop-color="#d1a55a"/><stop offset="0.429" stop-color="#d5ad64"/><stop offset="0.500" stop-color="#dbba73"/><stop offset="0.571" stop-color="#e2c786"/><stop offset="0.643" stop-color="#e8d095"/><stop offset="0.714" stop-color="#edd9a5"/><stop offset="0.786" stop-color="#f0e5c1"/><stop offset="0.857" stop-color="#deeadc"/><stop offset="0.929" stop-color="#c8e5dd"/><stop offset="1.000" stop-color="#b3dfd7"/></linearGradient><linearGradient id="g62"><stop offset="0.000" stop-color="#d1a559"/><stop offset="0.071" stop-color="#d0a559"/><stop offset="0.143" stop-color="#d0a357"/><stop offset="0.214" stop-color="#cfa154"/><stop offset="0.286" stop-color="#cfa155"/><stop offset="0.357" stop-color="#d1a559"/><stop offset="0.429" stop-color="#d5ad63"/><stop offset="0.500" stop-color="#dbb972"/><stop offset="0.571" stop-color="#e2c685"/><stop offset="0.643" stop-color="#e7cf94"/><stop offset="0.714" stop-color="#edd8a3"/><stop offset="0.786" stop-color="#f1e5bf"/><stop offset="0.857" stop-color="#e0eadb"/><stop offset="0.929" stop-color="#cae6dd"/><stop offset="1.000" stop-color="#b7e0d8"/></linearGradient><linearGradient id="g63"><stop offset="0.000" stop-color="#d0a559"/><stop offset="0.071" stop-color="#d0a458"/><stop offset="0.143" stop-color="#d0a356"/><stop offset="0.214" stop-color="#cfa154"/><stop offset="0.286" stop-color="#cfa154"/><stop offset="0.357" stop-color="#d0a459"/><stop offset="0.429" stop-color="#d4ac62"/><stop offset="0.500" stop-color="#dab971"/><stop offset="0.571" stop-color="#e1c684"/><stop offset="0.643" stop-color="#e7ce92"/><stop offset="0.714" stop-color="#ecd7a2"/><stop offset="0.786" stop-color="#f1e4be"/><stop offset="0.857" stop-color="#e1eada"/><stop offset="0.929" stop-color="#cce6dd"/><stop offset="1.000" stop-color="#bae1d9"/></linearGradient><linearGradient id="g64"><stop offset="0.000" stop-color="#d0a458"/><stop offset="0.071" stop-color="#d0a458"/><stop offset="0.143" stop-color="#cfa256"/><stop offset="0.214" stop-color="#cfa154"/><stop offset="0.286" stop-color="#cfa154"/><stop offset="0.357" stop-color="#d0a458"/><stop offset="0.429" stop-color="#d4ab61"/><stop offset="0.500" stop-color="#dab870"/><stop offset="0.571" stop-color="#e1c582"/><stop offset="0.643" stop-color="#e6ce91"/><stop offset="0.714" stop-color="#ecd6a0"/><stop offset="0.786" stop-color="#f1e4bc"/><stop offset="0.857" stop-color="#e3ead8"/><stop offset="0.929" stop-color="#cfe7dd"/><stop offset="1.000" stop-color="#bde2db"/></linearGradient><linearGradient id="g65"><stop offset="0.000" stop-color="#d0a458"/><stop offset="0.071" stop-color="#d0a458"/><stop offset="0.143" stop-color="#cfa256"/><stop offset="0.214" stop-color="#cea053"/><stop offset="0.286" stop-color="#cea053"/><stop offset="0.357" stop-color="#d0a458"/><stop offset="0.429" stop-color="#d4ab60"/><stop offset="0.500" stop-color="#d9b76f"/><stop offset="0.571" stop-color="#e1c581"/><stop offset="0.643" stop-color="#e6cd8f"/><stop offset="0.714" stop-color="#ebd69f"/><stop offset="0.786" stop-color="#f2e4bb"/><stop offset="0.857" stop-color="#e4ead7"/><stop offset="0.929" stop-color="#d1e7dd"/><stop offset="1.000" stop-color="#c0e3dc"/></linearGradient><linearGradient id="g66"><stop offset="0.000" stop-color="#d0a458"/><stop offset="0.071" stop-color="#d0a457"/><stop offset="0.143" stop-color="#cfa255"/><stop offset="0.214" stop-color="#cea053"/><stop offset="0.286" stop-color="#cea053"/><stop offset="0.357" stop-color="#d0a357"/><stop offset="0.429" stop-color="#d3aa60"/><stop offset="0.500" stop-color="#d9b66e"/><stop offset="0.571" stop-color="#e0c480"/><stop offset="0.643" stop-color="#e5cc8e"/><stop offset="0.714" stop-color="#ebd59d"/><stop offset="0.786" stop-color="#f2e3b9"/><stop offset="0.857" stop-color="#e6e9d6"/><stop offset="0.929" stop-color="#d4e8dd"/><stop offset="1.000" stop-color="#c3e4dc"/></linearGradient><linearGradient id="g67"><stop offset="0.000" stop-color="#d0a457"/><stop offset="0.071" stop-color="#d0a357"/><stop offset="0.143" stop-color="#cfa255"/><stop offset="0.214" stop-color="#cea053"/><stop offset="0.286" stop-color="#cea053"/><stop offset="0.357" stop-color="#d0a356"/><stop offset="0.429" stop-color="#d3aa5f"/><stop offset="0.500" stop-color="#d9b56d"/><stop offset="0.571" stop-color="#e0c37f"/><stop offset="0.643" stop-color="#e5cb8d"/><stop offset="0.714" stop-color="#ead49c"/><stop offset="0.786" stop-color="#f2e3b8"/><stop offset="0.857" stop-color="#e8e9d4"/><stop offset="0.929" stop-color="#d6e9de"/><stop offset="1.000" stop-color="#c5e4dc"/></linearGradient><linearGradient id="g68"><stop offset="0.000" stop-color="#d0a357"/><stop offset="0.071" stop-color="#d0a357"/><stop offset="0.143" stop-color="#cfa155"/><stop offset="0.214" stop-color="#cea053"/><stop offset="0.286" stop-color="#ce9f52"/><stop offset="0.357" stop-color="#cfa256"/><stop offset="0.429" stop-color="#d3a95e"/><stop offset="0.500" stop-color="#d8b46c"/><stop offset="0.571" stop-color="#dfc37e"/><stop offset="0.643" stop-color="#e4ca8b"/><stop offset="0.714" stop-color="#ead39a"/><stop offset="0.786" stop-color="#f3e3b6"/><stop offset="0.857" stop-color="#eae9d2"/><stop offset="0.929" stop-color="#d9e9de"/><stop offset="1.000" stop-color="#c7e5dd"/></linearGradient><linearGradient id="g69"><stop offset="0.000" stop-color="#d0a357"/><stop offset="0.071" stop-color="#d0a357"/><stop offset="0.143" stop-color="#cfa155"/><stop offset="0.214" stop-color="#ce9f52"/><stop offset="0.286" stop-color="#ce9f52"/><stop offset="0.357" stop-color="#cfa255"/><stop offset="0.429" stop-color="#d2a85d"/><stop offset="0.500" stop-color="#d8b36b"/><stop offset="0.571" stop-color="#dfc27d"/><stop offset="0.643" stop-color="#e4c98a"/><stop offset="0.714" stop-color="#e9d299"/><stop offset="0.786" stop-color="#f3e2b4"/><stop offset="0.857" stop-color="#ece9d1"/><stop offset="0.929" stop-color="#dceade"/><stop offset="1.000" stop-color="#cae6dd"/></linearGradient><linearGradient id="g70"><stop offset="0.000" stop-color="#d0a357"/><stop offset="0.071" stop-color="#d0a356"/><stop offset="0.143" stop-color="#cfa154"/><stop offset="0.214" stop-color="#ce9f52"/><stop offset="0.286" stop-color="#ce9f51"/><stop offset="0.357" stop-color="#cfa155"/><stop offset="0.429" stop-color="#d2a85d"/><stop offset="0.500" stop-color="#d7b26a"/><stop offset="0.571" stop-color="#dec17b"/><stop offset="0.643" stop-color="#e3c988"/><stop offset="0.714" stop-color="#e8d197"/><stop offset="0.786" stop-color="#f2e1b2"/><stop offset="0.857" stop-color="#ede9ce"/><stop offset="0.929" stop-color="#deeadc"/><stop offset="1.000" stop-color="#cde6dd"/></linearGradient><linearGradient id="g71"><stop offset="0.000" stop-color="#d0a356"/><stop offset="0.071" stop-color="#cfa256"/><stop offset="0.143" stop-color="#cfa154"/><stop offset="0.214" stop-color="#ce9f52"/><stop offset="0.286" stop-color="#cd9e51"/><stop offset="0.357" stop-color="#cfa154"/><stop offset="0.429" stop-color="#d2a75c"/><stop offset="0.500" stop-color="#d7b169"/><stop offset="0.571" stop-color="#debf7a"/><stop offset="0.643" stop-color="#e3c887"/><stop offset="0.714" stop-color="#e8d095"/><stop offset="0.786" stop-color="#f1dfb0"/><stop offset="0.857" stop-color="#eee8cb"/><stop offset="0.929" stop-color="#e0eada"/><stop offset="1.000" stop-color="#d0e7dd"/></linearGradient><linearGradient id="g72"><stop offset="0.000" stop-color="#cfa256"/><stop offset="0.071" stop-color="#cfa256"/><stop offset="0.143" stop-color="#cfa054"/><stop offset="0.214" stop-color="#ce9f51"/><stop offset="0.286" stop-color="#cd9e51"/><stop offset="0.357" stop-color="#cea053"/><stop offset="0.429" stop-color="#d1a65b"/><stop offset="0.500" stop-color="#d6b168"/><stop offset="0.571" stop-color="#ddbe78"/><stop offset="0.643" stop-color="#e2c786"/><stop offset="0.714" stop-color="#e7cf94"/><stop offset="0.786" stop-color="#f0dead"/><stop offset="0.857" stop-color="#efe7c8"/><stop offset="0.929" stop-color="#e3ead8"/><stop offset="1.000" stop-color="#d3e8dd"/></linearGradient><linearGradient id="g73"><stop offset="0.000" stop-color="#cfa256"/><stop offset="0.071" stop-color="#cfa255"/><stop offset="0.143" stop-color="#cea053"/><stop offset="0.214" stop-color="#cd9e51"/><stop offset="0.286" stop-color="#cd9e50"/><stop offset="0.357" stop-color="#cea053"/><stop offset="0.429" stop-color="#d1a65a"/><stop offset="0.500" stop-color="#d6b066"/><stop offset="0.571" stop-color="#dcbd77"/><stop offset="0.643" stop-color="#e2c684"/><stop offset="0.714" stop-color="#e7ce92"/><stop offset="0.786" stop-color="#f0dcaa"/><stop offset="0.857" stop-color="#efe6c5"/><stop offset="0.929" stop-color="#e5e9d7"/><stop offset="1.000" stop-color="#d6e9de"/></linearGradient><linearGradient id="g74"><stop offset="0.000" stop-color="#cfa255"/><stop offset="0.071" stop-color="#cfa255"/><stop offset="0.143" stop-color="#cea053"/><stop offset="0.214" stop-color="#cd9e51"/><stop offset="0.286" stop-color="#cd9d50"/><stop offset="0.357" stop-color="#ce9f52"/><stop offset="0.429" stop-color="#d1a559"/><stop offset="0.500" stop-color="#d6af65"/><stop offset="0.571" stop-color="#dcbc75"/><stop offset="0.643" stop-color="#e1c583"/><stop offset="0.714" stop-color="#e6cd90"/><stop offset="0.786" stop-color="#efdba8"/><stop offset="0.857" stop-color="#f0e6c2"/><stop offset="0.929" stop-color="#e8e9d4"/><stop offset="1.000" stop-color="#d9e9de"/></linearGradient><linearGradient id="g75"><stop offset="0.000" stop-color="#cfa255"/><stop offset="0.071" stop-color="#cfa155"/><stop offset="0.143" stop-color="#cea053"/><stop offset="0.214" stop-color="#cd9e50"/><stop offset="0.286" stop-color="#cd9d4f"/><stop offset="0.357" stop-color="#ce9f52"/><stop offset="0.429" stop-color="#d0a458"/><stop offset="0.500" stop-color="#d5ae64"/><stop offset="0.571" stop-color="#dbba73"/><stop offset="0.643" stop-color="#e1c582"/><stop offset="0.714" stop-color="#e5cc8f"/><stop offset="0.786" stop-color="#eed9a5"/><stop offset="0.857" stop-color="#f1e5bf"/><stop offset="0.929" stop-color="#eae9d2"/><stop offset="1.000" stop-color="#ddeade"/></linearGradient><linearGradient id="g76"><stop offset="0.000" stop-color="#cfa155"/><stop offset="0.071" stop-color="#cfa155"/><stop offset="0.143" stop-color="#cea053"/><stop offset="0.214" stop-color="#cd9e50"/><stop offset="0.286" stop-color="#cd9d4f"/><stop offset="0.357" stop-color="#cd9e51"/><stop offset="0.429" stop-color="#d0a458"/><stop offset="0.500" stop-color="#d5ad63"/><stop offset="0.571" stop-color="#dbb972"/><stop offset="0.643" stop-color="#e0c480"/><stop offset="0.714" stop-color="#e5cb8d"/><stop offset="0.786" stop-color="#edd8a2"/><stop offset="0.857" stop-color="#f1e4bc"/><stop offset="0.929" stop-color="#ede9d0"/><stop offset="1.000" stop-color="#dfeadb"/></linearGradient><linearGradient id="g77"><stop offset="0.000" stop-color="#cfa155"/><stop offset="0.071" stop-color="#cfa154"/><stop offset="0.143" stop-color="#ce9f52"/><stop offset="0.214" stop-color="#cd9d50"/><stop offset="0.286" stop-color="#cc9c4e"/><stop offset="0.357" stop-color="#cd9e50"/><stop offset="0.429" stop-color="#d0a357"/><stop offset="0.500" stop-color="#d4ac62"/><stop offset="0.571" stop-color="#dab870"/><stop offset="0.643" stop-color="#e0c37f"/><stop offset="0.714" stop-color="#e4ca8b"/><stop offset="0.786" stop-color="#ecd6a0"/><stop offset="0.857" stop-color="#f2e3b9"/><stop offset="0.929" stop-color="#eee8cd"/><stop offset="1.000" stop-color="#e2ead9"/></linearGradient><linearGradient id="g78"><stop offset="0.000" stop-color="#cfa154"/><stop offset="0.071" stop-color="#cfa154"/><stop offset="0.143" stop-color="#ce9f52"/><stop offset="0.214" stop-color="#cd9d50"/><stop offset="0.286" stop-color="#cc9c4e"/><stop offset="0.357" stop-color="#cd9d50"/><stop offset="0.429" stop-color="#cfa256"/><stop offset="0.500" stop-color="#d4ab61"/><stop offset="0.571" stop-color="#d9b66f"/><stop offset="0.643" stop-color="#dfc27d"/><stop offset="0.714" stop-color="#e4c98a"/><stop offset="0.786" stop-color="#ebd59d"/><stop offset="0.857" stop-color="#f3e2b6"/><stop offset="0.929" stop-color="#eee7c9"/><stop offset="1.000" stop-color="#e5e9d7"/></linearGradient><linearGradient id="g79"><stop offset="0.000" stop-color="#cfa154"/><stop offset="0.071" stop-color="#cfa054"/><stop offset="0.143" stop-color="#ce9f52"/><stop offset="0.214" stop-color="#cd9d4f"/><stop offset="0.286" stop-color="#cc9b4e"/><stop offset="0.357" stop-color="#cd9d4f"/><stop offset="0.429" stop-color="#cfa155"/><stop offset="0.500" stop-color="#d3aa5f"/><stop offset="0.571" stop-color="#d9b56d"/><stop offset="0.643" stop-color="#dec17c"/><stop offset="0.714" stop-color="#e3c888"/><stop offset="0.786" stop-color="#ead39a"/><stop offset="0.857" stop-color="#f2e1b2"/><stop offset="0.929" stop-color="#efe6c5"/><stop offset="1.000" stop-color="#e8e9d4"/></linearGradient><linearGradient id="g80"><stop offset="0.000" stop-color="#cea054"/><stop offset="0.071" stop-color="#cea054"/><stop offset="0.143" stop-color="#ce9f52"/><stop offset="0.214" stop-color="#cd9d4f"/><stop offset="0.286" stop-color="#cc9b4d"/><stop offset="0.357" stop-color="#cc9c4e"/><stop offset="0.429" stop-color="#cfa154"/><stop offset="0.500" stop-color="#d3a95e"/><stop offset="0.571" stop-color="#d8b46b"/><stop offset="0.643" stop-color="#debf7a"/><stop offset="0.714" stop-color="#e2c786"/><stop offset="0.786" stop-color="#e9d197"/><stop offset="0.857" stop-color="#f1deae"/><stop offset="0.929" stop-color="#f0e5c1"/><stop offset="1.000" stop-color="#ebe9d2"/></linearGradient><linearGradient id="g81"><stop offset="0.000" stop-color="#cea053"/><stop offset="0.071" stop-color="#cea053"/><stop offset="0.143" stop-color="#ce9f51"/><stop offset="0.214" stop-color="#cc9c4f"/><stop offset="0.286" stop-color="#cc9b4d"/><stop offset="0.357" stop-color="#cc9c4e"/><stop offset="0.429" stop-color="#cea053"/><stop offset="0.500" stop-color="#d2a85d"/><stop offset="0.571" stop-color="#d7b26a"/><stop offset="0.643" stop-color="#ddbe78"/><stop offset="0.714" stop-color="#e2c684"/><stop offset="0.786" stop-color="#e8d095"/><stop offset="0.857" stop-color="#efdca9"/><stop offset="0.929" stop-color="#f1e4be"/><stop offset="1.000" stop-color="#ede9cf"/></linearGradient><linearGradient id="g82"><stop offset="0.000" stop-color="#cea053"/><stop offset="0.071" stop-color="#cea053"/><stop offset="0.143" stop-color="#cd9e51"/><stop offset="0.214" stop-color="#cc9c4e"/><stop offset="0.286" stop-color="#cb9a4c"/><stop offset="0.357" stop-color="#cc9b4d"/><stop offset="0.429" stop-color="#ce9f52"/><stop offset="0.500" stop-color="#d2a75c"/><stop offset="0.571" stop-color="#d7b168"/><stop offset="0.643" stop-color="#dcbc76"/><stop offset="0.714" stop-color="#e1c583"/><stop offset="0.786" stop-color="#e7ce92"/><stop offset="0.857" stop-color="#eed9a5"/><stop offset="0.929" stop-color="#f2e3ba"/><stop offset="1.000" stop-color="#eee8ca"/></linearGradient><linearGradient id="g83"><stop offset="0.000" stop-color="#cea053"/><stop offset="0.071" stop-color="#cea053"/><stop offset="0.143" stop-color="#cd9e51"/><stop offset="0.214" stop-color="#cc9c4e"/><stop offset="0.286" stop-color="#cb9a4c"/><stop offset="0.357" stop-color="#cb9a4c"/><stop offset="0.429" stop-color="#ce9e51"/><stop offset="0.500" stop-color="#d1a65b"/><stop offset="0.571" stop-color="#d6b067"/><stop offset="0.643" stop-color="#dbba74"/><stop offset="0.714" stop-color="#e0c481"/><stop offset="0.786" stop-color="#e6cd8f"/><stop offset="0.857" stop-color="#ecd7a1"/><stop offset="0.929" stop-color="#f3e2b6"/><stop offset="1.000" stop-color="#efe6c6"/></linearGradient><linearGradient id="g84"><stop offset="0.000" stop-color="#cea053"/><stop offset="0.071" stop-color="#ce9f53"/><stop offset="0.143" stop-color="#cd9e51"/><stop offset="0.214" stop-color="#cc9b4d"/><stop offset="0.286" stop-color="#cb994b"/><stop offset="0.357" stop-color="#cb9a4b"/><stop offset="0.429" stop-color="#cd9e50"/><stop offset="0.500" stop-color="#d1a559"/><stop offset="0.571" stop-color="#d5ae65"/><stop offset="0.643" stop-color="#dab972"/><stop offset="0.714" stop-color="#e0c37f"/><stop offset="0.786" stop-color="#e5cb8d"/><stop offset="0.857" stop-color="#ebd59d"/><stop offset="0.929" stop-color="#f2e1b2"/><stop offset="1.000" stop-color="#f0e5c1"/></linearGradient><linearGradient id="g85"><stop offset="0.000" stop-color="#ce9f52"/><stop offset="0.071" stop-color="#ce9f52"/><stop offset="0.143" stop-color="#cd9e50"/><stop offset="0.214" stop-color="#cc9b4d"/><stop offset="0.286" stop-color="#cb994b"/><stop offset="0.357" stop-color="#cb994b"/><stop offset="0.429" stop-color="#cd9d4f"/><stop offset="0.500" stop-color="#d0a458"/><stop offset="0.571" stop-color="#d5ad63"/><stop offset="0.643" stop-color="#dab770"/><stop offset="0.714" stop-color="#dfc27d"/><stop offset="0.786" stop-color="#e4ca8a"/><stop offset="0.857" stop-color="#e9d299"/><stop offset="0.929" stop-color="#f0deac"/><stop offset="1.000" stop-color="#f1e4bd"/></linearGradient><linearGradient id="g86"><stop offset="0.000" stop-color="#ce9f52"/><stop offset="0.071" stop-color="#ce9f52"/><stop offset="0.143" stop-color="#cd9d50"/><stop offset="0.214" stop-color="#cc9b4d"/><stop offset="0.286" stop-color="#cb994a"/><stop offset="0.357" stop-color="#cb994a"/><stop offset="0.429" stop-color="#cc9c4e"/><stop offset="0.500" stop-color="#d0a357"/><stop offset="0.571" stop-color="#d4ac62"/><stop offset="0.643" stop-color="#d9b66e"/><stop offset="0.714" stop-color="#dec07b"/><stop offset="0.786" stop-color="#e3c887"/><stop offset="0.857" stop-color="#e8d095"/><stop offset="0.929" stop-color="#eedba8"/><stop offset="1.000" stop-color="#f2e3b8"/></linearGradient><linearGradient id="g87"><stop offset="0.000" stop-color="#ce9f52"/><stop offset="0.071" stop-color="#ce9f52"/><stop offset="0.143" stop-color="#cd9d50"/><stop offset="0.214" stop-color="#cc9a4c"/><stop offset="0.286" stop-color="#ca9849"/><stop offset="0.357" stop-color="#ca9849"/><stop offset="0.429" stop-color="#cc9b4d"/><stop offset="0.500" stop-color="#cfa256"/><stop offset="0.571" stop-color="#d3aa60"/><stop offset="0.643" stop-color="#d8b46c"/><stop offset="0.714" stop-color="#ddbe78"/><stop offset="0.786" stop-color="#e2c785"/><stop offset="0.857" stop-color="#e6ce91"/><stop offset="0.929" stop-color="#edd8a3"/><stop offset="1.000" stop-color="#f3e2b4"/></linearGradient><linearGradient id="g88"><stop offset="0.000" stop-color="#ce9f52"/><stop offset="0.071" stop-color="#ce9f52"/><stop offset="0.143" stop-color="#cd9d4f"/><stop offset="0.214" stop-color="#cb9a4c"/><stop offset="0.286" stop-color="#ca9849"/><stop offset="0.357" stop-color="#ca9748"/><stop offset="0.429" stop-color="#cc9b4c"/><stop offset="0.500" stop-color="#cfa154"/><stop offset="0.571" stop-color="#d3a95e"/><stop offset="0.643" stop-color="#d7b26a"/><stop offset="0.714" stop-color="#dcbc76"/><stop offset="0.786" stop-color="#e1c582"/><stop offset="0.857" stop-color="#e5cb8d"/><stop offset="0.929" stop-color="#ebd59e"/><stop offset="1.000" stop-color="#f1dfae"/></linearGradient><linearGradient id="g89"><stop offset="0.000" stop-color="#ce9f52"/><stop offset="0.071" stop-color="#ce9f51"/><stop offset="0.143" stop-color="#cd9d4f"/><stop offset="0.214" stop-color="#cb9a4b"/><stop offset="0.286" stop-color="#ca9748"/><stop offset="0.357" stop-color="#ca9748"/><stop offset="0.429" stop-color="#cb9a4b"/><stop offset="0.500" stop-color="#cea053"/><stop offset="0.571" stop-color="#d2a85d"/><stop offset="0.643" stop-color="#d6b168"/><stop offset="0.714" stop-color="#dbba73"/><stop offset="0.786" stop-color="#e0c480"/><stop offset="0.857" stop-color="#e4c98a"/><stop offset="0.929" stop-color="#ead39a"/><stop offset="1.000" stop-color="#efdca9"/></linearGradient><linearGradient id="g90"><stop offset="0.000" stop-color="#ce9f51"/><stop offset="0.071" stop-color="#ce9e51"/><stop offset="0.143" stop-color="#cd9c4f"/><stop offset="0.214" stop-color="#cb994b"/><stop offset="0.286" stop-color="#ca9748"/><stop offset="0.357" stop-color="#c99647"/><stop offset="0.429" stop-color="#cb994a"/><stop offset="0.500" stop-color="#ce9f52"/><stop offset="0.571" stop-color="#d1a65b"/><stop offset="0.643" stop-color="#d6af66"/><stop offset="0.714" stop-color="#dab871"/><stop offset="0.786" stop-color="#dfc37e"/><stop offset="0.857" stop-color="#e2c786"/><stop offset="0.929" stop-color="#e8d096"/><stop offset="1.000" stop-color="#edd9a4"/></linearGradient><linearGradient id="g91"><stop offset="0.000" stop-color="#cd9e51"/><stop offset="0.071" stop-color="#cd9e51"/><stop offset="0.143" stop-color="#cc9c4f"/><stop offset="0.214" stop-color="#cb994b"/><stop offset="0.286" stop-color="#c99647"/><stop offset="0.357" stop-color="#c99546"/><stop offset="0.429" stop-color="#ca9849"/><stop offset="0.500" stop-color="#cd9e50"/><stop offset="0.571" stop-color="#d1a559"/><stop offset="0.643" stop-color="#d5ad63"/><stop offset="0.714" stop-color="#d9b66e"/><stop offset="0.786" stop-color="#dec07b"/><stop offset="0.857" stop-color="#e1c683"/><stop offset="0.929" stop-color="#e7ce92"/><stop offset="1.000" stop-color="#ecd6a0"/></linearGradient><linearGradient id="g92"><stop offset="0.000" stop-color="#cd9e51"/><stop offset="0.071" stop-color="#cd9e51"/><stop offset="0.143" stop-color="#cc9c4e"/><stop offset="0.214" stop-color="#cb994a"/><stop offset="0.286" stop-color="#c99646"/><stop offset="0.357" stop-color="#c99545"/><stop offset="0.429" stop-color="#ca9748"/><stop offset="0.500" stop-color="#cd9d4f"/><stop offset="0.571" stop-color="#d0a458"/><stop offset="0.643" stop-color="#d4ac61"/><stop offset="0.714" stop-color="#d8b46c"/><stop offset="0.786" stop-color="#ddbe78"/><stop offset="0.857" stop-color="#e0c480"/><stop offset="0.929" stop-color="#e5cc8e"/><stop offset="1.000" stop-color="#ead49c"/></linearGradient><linearGradient id="g93"><stop offset="0.000" stop-color="#cd9e51"/><stop offset="0.071" stop-color="#cd9e51"/><stop offset="0.143" stop-color="#cc9c4e"/><stop offset="0.214" stop-color="#ca984a"/><stop offset="0.286" stop-color="#c99546"/><stop offset="0.357" stop-color="#c89444"/><stop offset="0.429" stop-color="#c99647"/><stop offset="0.500" stop-color="#cc9c4e"/><stop offset="0.571" stop-color="#cfa256"/><stop offset="0.643" stop-color="#d3aa5f"/><stop offset="0.714" stop-color="#d7b26a"/><stop offset="0.786" stop-color="#dcbc75"/><stop offset="0.857" stop-color="#dfc37e"/><stop offset="0.929" stop-color="#e4ca8b"/><stop offset="1.000" stop-color="#e9d298"/></linearGradient><linearGradient id="g94"><stop offset="0.000" stop-color="#cd9e51"/><stop offset="0.071" stop-color="#cd9e51"/><stop offset="0.143" stop-color="#cc9c4e"/><stop offset="0.214" stop-color="#ca9849"/><stop offset="0.286" stop-color="#c99445"/><stop offset="0.357" stop-color="#c89343"/><stop offset="0.429" stop-color="#c99546"/><stop offset="0.500" stop-color="#cc9a4c"/><stop offset="0.571" stop-color="#cfa154"/><stop offset="0.643" stop-color="#d2a85d"/><stop offset="0.714" stop-color="#d6b067"/><stop offset="0.786" stop-color="#dbb972"/><stop offset="0.857" stop-color="#dec07b"/><stop offset="0.929" stop-color="#e3c888"/><stop offset="1.000" stop-color="#e8d095"/></linearGradient><linearGradient id="g95"><stop offset="0.000" stop-color="#cd9e51"/><stop offset="0.071" stop-color="#cd9e50"/><stop offset="0.143" stop-color="#cc9b4d"/><stop offset="0.214" stop-color="#ca9749"/><stop offset="0.286" stop-color="#c89444"/><stop offset="0.357" stop-color="#c89242"/><stop offset="0.429" stop-color="#c99445"/><stop offset="0.500" stop-color="#cb994b"/><stop offset="0.571" stop-color="#ce9f53"/><stop offset="0.643" stop-color="#d2a75b"/><stop offset="0.714" stop-color="#d5ae65"/><stop offset="0.786" stop-color="#dab770"/><stop offset="0.857" stop-color="#ddbe78"/><stop offset="0.929" stop-color="#e2c785"/><stop offset="1.000" stop-color="#e7ce92"/></linearGradient><linearGradient id="g96"><stop offset="0.000" stop-color="#cd9e51"/><stop offset="0.071" stop-color="#cd9e50"/><stop offset="0.143" stop-color="#cc9b4d"/><stop offset="0.214" stop-color="#ca9748"/><stop offset="0.286" stop-color="#c89343"/><stop offset="0.357" stop-color="#c79242"/><stop offset="0.429" stop-color="#c89444"/><stop offset="0.500" stop-color="#ca9849"/><stop offset="0.571" stop-color="#cd9e51"/><stop offset="0.643" stop-color="#d1a559"/><stop offset="0.714" stop-color="#d4ad63"/><stop offset="0.786" stop-color="#d9b56d"/><stop offset="0.857" stop-color="#dcbc76"/><stop offset="0.929" stop-color="#e1c583"/><stop offset="1.000" stop-color="#e6cd90"/></linearGradient><linearGradient id="g97"><stop offset="0.000" stop-color="#cd9e51"/><stop offset="0.071" stop-color="#cd9e50"/><stop offset="0.143" stop-color="#cc9b4d"/><stop offset="0.214" stop-color="#ca9647"/><stop offset="0.286" stop-color="#c89343"/><stop offset="0.357" stop-color="#c79141"/><stop offset="0.429" stop-color="#c89343"/><stop offset="0.500" stop-color="#ca9748"/><stop offset="0.571" stop-color="#cd9d4f"/><stop offset="0.643" stop-color="#d0a357"/><stop offset="0.714" stop-color="#d4ab60"/><stop offset="0.786" stop-color="#d8b36b"/><stop offset="0.857" stop-color="#dbba74"/><stop offset="0.929" stop-color="#e0c480"/><stop offset="1.000" stop-color="#e5cb8d"/></linearGradient><linearGradient id="g98"><stop offset="0.000" stop-color="#cd9e51"/><stop offset="0.071" stop-color="#cd9d50"/><stop offset="0.143" stop-color="#cc9a4c"/><stop offset="0.214" stop-color="#c99647"/><stop offset="0.286" stop-color="#c79242"/><stop offset="0.357" stop-color="#c69040"/><stop offset="0.429" stop-color="#c79242"/><stop offset="0.500" stop-color="#c99647"/><stop offset="0.571" stop-color="#cc9b4d"/><stop offset="0.643" stop-color="#cfa255"/><stop offset="0.714" stop-color="#d3a95e"/><stop offset="0.786" stop-color="#d7b168"/><stop offset="0.857" stop-color="#dab972"/><stop offset="0.929" stop-color="#dfc37e"/><stop offset="1.000" stop-color="#e4ca8b"/></linearGradient><linearGradient id="g99"><stop offset="0.000" stop-color="#cd9e51"/><stop offset="0.071" stop-color="#cd9d50"/><stop offset="0.143" stop-color="#cb9a4c"/><stop offset="0.214" stop-color="#c99646"/><stop offset="0.286" stop-color="#c79141"/><stop offset="0.357" stop-color="#c68f3f"/><stop offset="0.429" stop-color="#c79140"/><stop offset="0.500" stop-color="#c99545"/><stop offset="0.571" stop-color="#cb9a4c"/><stop offset="0.643" stop-color="#cea053"/><stop offset="0.714" stop-color="#d2a75c"/><stop offset="0.786" stop-color="#d6af66"/><stop offset="0.857" stop-color="#dab770"/><stop offset="0.929" stop-color="#dec17c"/><stop offset="1.000" stop-color="#e3c989"/></linearGradient><linearGradient id="g100"><stop offset="0.000" stop-color="#cd9e51"/><stop offset="0.071" stop-color="#cd9d50"/><stop offset="0.143" stop-color="#cb9a4c"/><stop offset="0.214" stop-color="#c99546"/><stop offset="0.286" stop-color="#c79140"/><stop offset="0.357" stop-color="#c68f3e"/><stop offset="0.429" stop-color="#c6903f"/><stop offset="0.500" stop-color="#c89444"/><stop offset="0.571" stop-color="#cb994a"/><stop offset="0.643" stop-color="#ce9f51"/><stop offset="0.714" stop-color="#d1a65a"/><stop offset="0.786" stop-color="#d5ae64"/><stop offset="0.857" stop-color="#d9b66e"/><stop offset="0.929" stop-color="#ddbf79"/><stop offset="1.000" stop-color="#e3c887"/></linearGradient><linearGradient id="g101"><stop offset="0.000" stop-color="#cd9e51"/><stop offset="0.071" stop-color="#cd9d50"/><stop offset="0.143" stop-color="#cb9a4b"/><stop offset="0.214" stop-color="#c99545"/><stop offset="0.286" stop-color="#c6903f"/><stop offset="0.357" stop-color="#c58e3d"/><stop offset="0.429" stop-color="#c68f3e"/><stop offset="0.500" stop-color="#c89242"/><stop offset="0.571" stop-color="#ca9748"/><stop offset="0.643" stop-color="#cd9d4f"/><stop offset="0.714" stop-color="#d0a458"/><stop offset="0.786" stop-color="#d4ac62"/><stop offset="0.857" stop-color="#d8b56d"/><stop offset="0.929" stop-color="#dcbd76"/><stop offset="1.000" stop-color="#e2c785"/></linearGradient><linearGradient id="g102"><stop offset="0.000" stop-color="#cd9e51"/><stop offset="0.071" stop-color="#cd9d4f"/><stop offset="0.143" stop-color="#cb994b"/><stop offset="0.214" stop-color="#c89444"/><stop offset="0.286" stop-color="#c68f3e"/><stop offset="0.357" stop-color="#c58d3c"/><stop offset="0.429" stop-color="#c58e3d"/><stop offset="0.500" stop-color="#c79141"/><stop offset="0.571" stop-color="#c99647"/><stop offset="0.643" stop-color="#cc9b4d"/><stop offset="0.714" stop-color="#cfa256"/><stop offset="0.786" stop-color="#d3aa60"/><stop offset="0.857" stop-color="#d8b46b"/><stop offset="0.929" stop-color="#dbbb74"/><stop offset="1.000" stop-color="#e1c683"/></linearGradient><linearGradient id="g103"><stop offset="0.000" stop-color="#cd9e51"/><stop offset="0.071" stop-color="#cd9d4f"/><stop offset="0.143" stop-color="#cb994a"/><stop offset="0.214" stop-color="#c89344"/><stop offset="0.286" stop-color="#c68e3e"/><stop offset="0.357" stop-color="#c48c3b"/><stop offset="0.429" stop-color="#c58d3c"/><stop offset="0.500" stop-color="#c69040"/><stop offset="0.571" stop-color="#c99445"/><stop offset="0.643" stop-color="#cb9a4c"/><stop offset="0.714" stop-color="#cea054"/><stop offset="0.786" stop-color="#d3a95e"/><stop offset="0.857" stop-color="#d7b36a"/><stop offset="0.929" stop-color="#dbb972"/><stop offset="1.000" stop-color="#e1c582"/></linearGradient><linearGradient id="g104"><stop offset="0.000" stop-color="#cd9e51"/><stop offset="0.071" stop-color="#cd9d4f"/><stop offset="0.143" stop-color="#cb994a"/><stop offset="0.214" stop-color="#c89343"/><stop offset="0.286" stop-color="#c58e3d"/><stop offset="0.357" stop-color="#c48b3a"/><stop offset="0.429" stop-color="#c48c3b"/><stop offset="0.500" stop-color="#c68f3e"/><stop offset="0.571" stop-color="#c89343"/><stop offset="0.643" stop-color="#ca984a"/><stop offset="0.714" stop-color="#ce9f52"/><stop offset="0.786" stop-color="#d2a75c"/><stop offset="0.857" stop-color="#d7b269"/><stop offset="0.929" stop-color="#dab870"/><stop offset="1.000" stop-color="#e0c480"/></linearGradient><linearGradient id="g105"><stop offset="0.000" stop-color="#cd9e50"/><stop offset="0.071" stop-color="#cd9d4f"/><stop offset="0.143" stop-color="#ca984a"/><stop offset="0.214" stop-color="#c89242"/><stop offset="0.286" stop-color="#c58d3c"/><stop offset="0.357" stop-color="#c48a39"/><stop offset="0.429" stop-color="#c48b39"/><stop offset="0.500" stop-color="#c58e3d"/><stop offset="0.571" stop-color="#c79241"/><stop offset="0.643" stop-color="#ca9748"/><stop offset="0.714" stop-color="#cd9d50"/><stop offset="0.786" stop-color="#d1a65a"/><stop offset="0.857" stop-color="#d6b168"/><stop offset="0.929" stop-color="#d9b66e"/><stop offset="1.000" stop-color="#e0c37f"/></linearGradient><linearGradient id="g106"><stop offset="0.000" stop-color="#cd9e50"/><stop offset="0.071" stop-color="#cc9c4f"/><stop offset="0.143" stop-color="#ca9849"/><stop offset="0.214" stop-color="#c79242"/><stop offset="0.286" stop-color="#c58c3b"/><stop offset="0.357" stop-color="#c38a38"/><stop offset="0.429" stop-color="#c38a38"/><stop offset="0.500" stop-color="#c58d3b"/><stop offset="0.571" stop-color="#c79040"/><stop offset="0.643" stop-color="#c99546"/><stop offset="0.714" stop-color="#cc9c4e"/><stop offset="0.786" stop-color="#d0a458"/><stop offset="0.857" stop-color="#d6b066"/><stop offset="0.929" stop-color="#d8b56c"/><stop offset="1.000" stop-color="#dfc27d"/></linearGradient><linearGradient id="g107"><stop offset="0.000" stop-color="#cd9e50"/><stop offset="0.071" stop-color="#cc9c4e"/><stop offset="0.143" stop-color="#ca9749"/><stop offset="0.214" stop-color="#c79141"/><stop offset="0.286" stop-color="#c48b3a"/><stop offset="0.357" stop-color="#c38936"/><stop offset="0.429" stop-color="#c38937"/><stop offset="0.500" stop-color="#c48b3a"/><stop offset="0.571" stop-color="#c68f3e"/><stop offset="0.643" stop-color="#c89444"/><stop offset="0.714" stop-color="#cb9a4c"/><stop offset="0.786" stop-color="#d0a357"/><stop offset="0.857" stop-color="#d5ae65"/><stop offset="0.929" stop-color="#d8b36b"/><stop offset="1.000" stop-color="#dec07b"/></linearGradient><linearGradient id="g108"><stop offset="0.000" stop-color="#cd9e50"/><stop offset="0.071" stop-color="#cc9c4e"/><stop offset="0.143" stop-color="#ca9748"/><stop offset="0.214" stop-color="#c79140"/><stop offset="0.286" stop-color="#c48b39"/><stop offset="0.357" stop-color="#c28835"/><stop offset="0.429" stop-color="#c38836"/><stop offset="0.500" stop-color="#c48a38"/><stop offset="0.571" stop-color="#c58e3c"/><stop offset="0.643" stop-color="#c79242"/><stop offset="0.714" stop-color="#cb984a"/><stop offset="0.786" stop-color="#cfa155"/><stop offset="0.857" stop-color="#d5ad63"/><stop offset="0.929" stop-color="#d7b269"/><stop offset="1.000" stop-color="#ddbf79"/></linearGradient><linearGradient id="g109"><stop offset="0.000" stop-color="#cd9d50"/><stop offset="0.071" stop-color="#cc9c4e"/><stop offset="0.143" stop-color="#ca9748"/><stop offset="0.214" stop-color="#c6903f"/><stop offset="0.286" stop-color="#c38a38"/><stop offset="0.357" stop-color="#c28734"/><stop offset="0.429" stop-color="#c28735"/><stop offset="0.500" stop-color="#c38937"/><stop offset="0.571" stop-color="#c58c3b"/><stop offset="0.643" stop-color="#c79140"/><stop offset="0.714" stop-color="#ca9748"/><stop offset="0.786" stop-color="#cea053"/><stop offset="0.857" stop-color="#d4ac62"/><stop offset="0.929" stop-color="#d6b067"/><stop offset="1.000" stop-color="#dcbd77"/></linearGradient><linearGradient id="g110"><stop offset="0.000" stop-color="#cd9d50"/><stop offset="0.071" stop-color="#cc9b4e"/><stop offset="0.143" stop-color="#c99647"/><stop offset="0.214" stop-color="#c68f3f"/><stop offset="0.286" stop-color="#c38937"/><stop offset="0.357" stop-color="#c28633"/><stop offset="0.429" stop-color="#c28633"/><stop offset="0.500" stop-color="#c28836"/><stop offset="0.571" stop-color="#c48b39"/><stop offset="0.643" stop-color="#c68f3e"/><stop offset="0.714" stop-color="#c99546"/><stop offset="0.786" stop-color="#cd9e51"/><stop offset="0.857" stop-color="#d3aa60"/><stop offset="0.929" stop-color="#d6af65"/><stop offset="1.000" stop-color="#dcbb74"/></linearGradient><linearGradient id="g111"><stop offset="0.000" stop-color="#cd9d50"/><stop offset="0.071" stop-color="#cc9b4d"/><stop offset="0.143" stop-color="#c99647"/><stop offset="0.214" stop-color="#c68f3e"/><stop offset="0.286" stop-color="#c38836"/><stop offset="0.357" stop-color="#c18532"/><stop offset="0.429" stop-color="#c18532"/><stop offset="0.500" stop-color="#c28734"/><stop offset="0.571" stop-color="#c38a37"/><stop offset="0.643" stop-color="#c58e3d"/><stop offset="0.714" stop-color="#c89444"/><stop offset="0.786" stop-color="#cd9d4f"/><stop offset="0.857" stop-color="#d3a95e"/><stop offset="0.929" stop-color="#d5ae64"/><stop offset="1.000" stop-color="#dbb972"/></linearGradient><linearGradient id="g112"><stop offset="0.000" stop-color="#cd9d4f"/><stop offset="0.071" stop-color="#cc9b4d"/><stop offset="0.143" stop-color="#c99546"/><stop offset="0.214" stop-color="#c58e3d"/><stop offset="0.286" stop-color="#c28835"/><stop offset="0.357" stop-color="#c18431"/><stop offset="0.429" stop-color="#c18431"/><stop offset="0.500" stop-color="#c18633"/><stop offset="0.571" stop-color="#c38836"/><stop offset="0.643" stop-color="#c58c3b"/><stop offset="0.714" stop-color="#c89242"/><stop offset="0.786" stop-color="#cc9b4e"/><stop offset="0.857" stop-color="#d2a75c"/><stop offset="0.929" stop-color="#d4ac62"/><stop offset="1.000" stop-color="#dab870"/></linearGradient><linearGradient id="g113"><stop offset="0.000" stop-color="#cd9d4f"/><stop offset="0.071" stop-color="#cc9b4c"/><stop offset="0.143" stop-color="#c99545"/><stop offset="0.214" stop-color="#c58d3c"/><stop offset="0.286" stop-color="#c28734"/><stop offset="0.357" stop-color="#c08330"/><stop offset="0.429" stop-color="#c08330"/><stop offset="0.500" stop-color="#c18431"/><stop offset="0.571" stop-color="#c28734"/><stop offset="0.643" stop-color="#c48b39"/><stop offset="0.714" stop-color="#c79140"/><stop offset="0.786" stop-color="#cb9a4c"/><stop offset="0.857" stop-color="#d1a65a"/><stop offset="0.929" stop-color="#d4ab60"/><stop offset="1.000" stop-color="#d9b66e"/></linearGradient><linearGradient id="g114"><stop offset="0.000" stop-color="#cd9d4f"/><stop offset="0.071" stop-color="#cb9a4c"/><stop offset="0.143" stop-color="#c99445"/><stop offset="0.214" stop-color="#c58d3c"/><stop offset="0.286" stop-color="#c18633"/><stop offset="0.357" stop-color="#c0832f"/><stop offset="0.429" stop-color="#c0822e"/><stop offset="0.500" stop-color="#c08330"/><stop offset="0.571" stop-color="#c18633"/><stop offset="0.643" stop-color="#c38937"/><stop offset="0.714" stop-color="#c68f3f"/><stop offset="0.786" stop-color="#cb994a"/><stop offset="0.857" stop-color="#d0a458"/><stop offset="0.929" stop-color="#d3a95f"/><stop offset="1.000" stop-color="#d8b46c"/></linearGradient><linearGradient id="g115"><stop offset="0.000" stop-color="#cc9c4f"/><stop offset="0.071" stop-color="#cb9a4c"/><stop offset="0.143" stop-color="#c89444"/><stop offset="0.214" stop-color="#c48c3b"/><stop offset="0.286" stop-color="#c18532"/><stop offset="0.357" stop-color="#bf822e"/><stop offset="0.429" stop-color="#bf812d"/><stop offset="0.500" stop-color="#c0822e"/><stop offset="0.571" stop-color="#c18431"/><stop offset="0.643" stop-color="#c28836"/><stop offset="0.714" stop-color="#c58e3d"/><stop offset="0.786" stop-color="#ca9748"/><stop offset="0.857" stop-color="#cfa256"/><stop offset="0.929" stop-color="#d2a85d"/><stop offset="1.000" stop-color="#d8b36a"/></linearGradient><linearGradient id="g116"><stop offset="0.000" stop-color="#cc9c4e"/><stop offset="0.071" stop-color="#cb994b"/><stop offset="0.143" stop-color="#c89343"/><stop offset="0.214" stop-color="#c48b3a"/><stop offset="0.286" stop-color="#c18431"/><stop offset="0.357" stop-color="#bf812d"/><stop offset="0.429" stop-color="#be802d"/><stop offset="0.500" stop-color="#bf812d"/><stop offset="0.571" stop-color="#c0832f"/><stop offset="0.643" stop-color="#c28634"/><stop offset="0.714" stop-color="#c58c3b"/><stop offset="0.786" stop-color="#c99646"/><stop offset="0.857" stop-color="#cfa154"/><stop offset="0.929" stop-color="#d1a65b"/><stop offset="1.000" stop-color="#d7b168"/></linearGradient><linearGradient id="g117"><stop offset="0.000" stop-color="#cc9c4e"/><stop offset="0.071" stop-color="#cb994a"/><stop offset="0.143" stop-color="#c89343"/><stop offset="0.214" stop-color="#c48b39"/><stop offset="0.286" stop-color="#c08330"/><stop offset="0.357" stop-color="#be802c"/><stop offset="0.429" stop-color="#be802c"/><stop offset="0.500" stop-color="#be802c"/><stop offset="0.571" stop-color="#bf822e"/><stop offset="0.643" stop-color="#c18532"/><stop offset="0.714" stop-color="#c48b39"/><stop offset="0.786" stop-color="#c89444"/><stop offset="0.857" stop-color="#ce9f52"/><stop offset="0.929" stop-color="#d1a559"/><stop offset="1.000" stop-color="#d6b066"/></linearGradient><linearGradient id="g118"><stop offset="0.000" stop-color="#cc9b4d"/><stop offset="0.071" stop-color="#cb984a"/><stop offset="0.143" stop-color="#c79242"/><stop offset="0.214" stop-color="#c38a38"/><stop offset="0.286" stop-color="#c0832f"/><stop offset="0.357" stop-color="#bd7f2c"/><stop offset="0.429" stop-color="#bd7f2b"/><stop offset="0.500" stop-color="#bd7f2c"/><stop offset="0.571" stop-color="#be802d"/><stop offset="0.643" stop-color="#c08430"/><stop offset="0.714" stop-color="#c38937"/><stop offset="0.786" stop-color="#c89243"/><stop offset="0.857" stop-color="#cd9d50"/><stop offset="0.929" stop-color="#d0a458"/><stop offset="1.000" stop-color="#d5ae65"/></linearGradient><linearGradient id="g119"><stop offset="0.000" stop-color="#cc9b4d"/><stop offset="0.071" stop-color="#ca9849"/><stop offset="0.143" stop-color="#c79141"/><stop offset="0.214" stop-color="#c38937"/><stop offset="0.286" stop-color="#bf822e"/><stop offset="0.357" stop-color="#bd7f2b"/><stop offset="0.429" stop-color="#bc7e2b"/><stop offset="0.500" stop-color="#bc7e2b"/><stop offset="0.571" stop-color="#bd802c"/><stop offset="0.643" stop-color="#c0822f"/><stop offset="0.714" stop-color="#c28836"/><stop offset="0.786" stop-color="#c79141"/><stop offset="0.857" stop-color="#cc9c4e"/><stop offset="0.929" stop-color="#cfa256"/><stop offset="1.000" stop-color="#d4ad63"/></linearGradient><linearGradient id="g120"><stop offset="0.000" stop-color="#cb9a4c"/><stop offset="0.071" stop-color="#ca9748"/><stop offset="0.143" stop-color="#c79140"/><stop offset="0.214" stop-color="#c38936"/><stop offset="0.286" stop-color="#bf812d"/><stop offset="0.357" stop-color="#bc7e2b"/><stop offset="0.429" stop-color="#bb7d2a"/><stop offset="0.500" stop-color="#bb7e2b"/><stop offset="0.571" stop-color="#bc7f2b"/><stop offset="0.643" stop-color="#bf812d"/><stop offset="0.714" stop-color="#c28734"/><stop offset="0.786" stop-color="#c68f3f"/><stop offset="0.857" stop-color="#cb9a4c"/><stop offset="0.929" stop-color="#cfa154"/><stop offset="1.000" stop-color="#d4ab61"/></linearGradient></defs>
<text x="0" y="13" font-size="15.8" font-family="Liberation Sans, sans-serif" fill="#111" class="dk">a.</text>
<text x="132.6" y="10.9" font-size="14" text-anchor="middle" font-family="Liberation Sans, sans-serif" fill="#111" class="dk">298K</text>
<line x1="42.0" y1="101.9" x2="225.0" y2="101.9" stroke="#555" stroke-width="1" stroke-dasharray="1 2"/>
<path d="M41 101.9 L42.53 102.36 L44.07 102.81 L45.6 103.23 L47.13 103.64 L48.67 104.02 L50.2 104.39 L51.73 104.74 L53.27 105.07 L54.8 105.38 L56.33 105.67 L57.87 105.95 L59.4 106.2 L60.93 106.44 L62.47 106.66 L64 106.86 L65.53 107.04 L67.07 107.2 L68.6 107.34 L70.13 107.46 L71.67 107.57 L73.2 107.65 L74.73 107.72 L76.27 107.77 L77.8 107.8 L79.33 107.81 L80.87 107.8 L82.4 107.77 L83.93 107.73 L85.47 107.66 L87 107.58 L88.53 107.48 L90.07 107.36 L91.6 107.22 L93.13 107.06 L94.67 106.88 L96.2 106.68 L97.73 106.47 L99.27 106.24 L100.8 105.98 L102.33 105.71 L103.87 105.42 L105.4 105.11 L106.93 104.78 L108.47 104.44 L110 104.07 L111.53 103.69 L113.07 103.28 L114.6 102.86 L116.13 102.42 L117.67 101.96 L119.2 101.48 L120.73 100.99 L122.27 100.47 L123.8 99.94 L125.33 99.38 L126.87 98.81 L128.4 98.22 L129.93 97.61 L131.47 96.98 L133 96.33 L134.53 95.67 L136.07 94.98 L137.6 94.28 L139.13 93.55 L140.67 92.81 L142.2 92.05 L143.73 91.27 L145.27 90.47 L146.8 89.66 L148.33 88.82 L149.87 87.97 L151.4 87.09 L152.93 86.2 L154.47 85.29 L156 84.36 L157.53 83.41 L159.07 82.44 L160.6 81.46 L162.13 80.45 L163.67 79.43 L165.2 78.39 L166.73 77.33 L168.27 76.24 L169.8 75.15 L171.33 74.03 L172.87 72.89 L174.4 71.74 L175.93 70.56 L177.47 69.37 L179 68.16 L180.53 66.93 L182.07 65.68 L183.6 64.41 L185.13 63.12 L186.67 61.82 L188.2 60.49 L189.73 59.15 L191.27 57.78 L192.8 56.4 L194.33 55 L195.87 53.58 L197.4 52.15 L198.93 50.69 L200.47 49.22 L202 47.72 L203.53 46.21 L205.07 44.68 L206.6 43.13 L208.13 41.56 L209.67 39.97 L211.2 38.36 L212.73 36.74 L214.27 35.09 L215.8 33.43 L217.33 31.75 L218.87 30.05 L220.4 28.33 L221.93 26.59 L223.47 24.83 L225 23.05" fill="none" stroke="#ecb893" stroke-width="1"/>
<rect x="46" y="103.4" width="3" height="3" fill="#4d7db5"/>
<rect x="49.5" y="102.9" width="3" height="3" fill="#4d7db5"/>
<rect x="51.7" y="108.4" width="3" height="3" fill="#4d7db5"/>
<rect x="54.8" y="104.6" width="3" height="3" fill="#4d7db5"/>
<rect x="57.9" y="108.8" width="3" height="3" fill="#4d7db5"/>
<rect x="64" y="105.9" width="3" height="3" fill="#4d7db5"/>
<rect x="70.2" y="105.9" width="3" height="3" fill="#4d7db5"/>
<rect x="76" y="106.1" width="3" height="3" fill="#4d7db5"/>
<rect x="82.5" y="106.8" width="3" height="3" fill="#4d7db5"/>
<rect x="88.75" y="105.2" width="3" height="3" fill="#4d7db5"/>
<rect x="94.8" y="104.5" width="3" height="3" fill="#4d7db5"/>
<rect x="100.8" y="103.5" width="3" height="3" fill="#4d7db5"/>
<rect x="108.5" y="105.5" width="3" height="3" fill="#4d7db5"/>
<rect x="116.2" y="94.8" width="3" height="3" fill="#4d7db5"/>
<rect x="123.8" y="91.2" width="3" height="3" fill="#4d7db5"/>
<rect x="131.5" y="93.5" width="3" height="3" fill="#4d7db5"/>
<rect x="139.3" y="87.3" width="3" height="3" fill="#4d7db5"/>
<rect x="146.8" y="88.5" width="3" height="3" fill="#4d7db5"/>
<rect x="154.5" y="84" width="3" height="3" fill="#4d7db5"/>
<path d="M179 62.4 V69 M176.6 62.4 H181.4 M176.6 69 H181.4" stroke="#a9b8cc" stroke-width="0.8" fill="none"/>
<rect x="177.5" y="64.5" width="3" height="3" fill="#44608e"/>
<path d="M210 28 V44.6 M207.6 28 H212.4 M207.6 44.6 H212.4" stroke="#a9b8cc" stroke-width="0.8" fill="none"/>
<rect x="208.5" y="34.5" width="3" height="3" fill="#44608e"/>
<text x="107.4" y="42.8" font-size="10" textLength="20.2" lengthAdjust="spacingAndGlyphs" font-family="Liberation Sans, sans-serif" fill="#222" class="dk">data</text>
<text x="99.9" y="64" font-size="9.8" textLength="27.8" lengthAdjust="spacingAndGlyphs" font-family="Liberation Sans, sans-serif" fill="#222" class="dk">model</text>
<path d="M133.4 38.9 H161.5 M133.4 37 V40.8 M161.5 37 V40.8" stroke="#9db8d8" stroke-width="0.8" fill="none"/>
<rect x="146.3" y="37.4" width="3" height="3" fill="#4d7db5"/>
<line x1="133.4" y1="60" x2="161.5" y2="60" stroke="#ecb893" stroke-width="1"/>
<path d="M41.0 21.98 V115.22 H225.0" fill="none" stroke="#3a3a3a" stroke-width="1.2"/>
<path d="M41.0 115.22 h4.5 M41.0 108.56 h2.2 M41.0 101.9 h4.5 M41.0 95.24 h2.2 M41.0 88.58 h4.5 M41.0 81.92 h2.2 M41.0 75.26 h4.5 M41.0 68.6 h2.2 M41.0 61.94 h4.5 M41.0 55.28 h2.2 M41.0 48.62 h4.5 M41.0 41.96 h2.2 M41.0 35.3 h4.5 M41.0 28.64 h2.2 M41.0 21.98 h4.5 M41 115.22 v3.2 M71.67 115.22 v2.2 M102.33 115.22 v3.2 M133 115.22 v2.2 M163.67 115.22 v3.2 M194.33 115.22 v2.2 M225 115.22 v3.2" stroke="#3a3a3a" stroke-width="1.1" fill="none"/>
<text x="35.4" y="119.42" font-size="10" text-anchor="end" font-family="Liberation Sans, sans-serif" fill="#222" class="dk">-2</text>
<text x="35.4" y="106.1" font-size="10" text-anchor="end" font-family="Liberation Sans, sans-serif" fill="#222" class="dk">0</text>
<text x="35.4" y="92.78" font-size="10" text-anchor="end" font-family="Liberation Sans, sans-serif" fill="#222" class="dk">2</text>
<text x="35.4" y="79.46" font-size="10" text-anchor="end" font-family="Liberation Sans, sans-serif" fill="#222" class="dk">4</text>
<text x="35.4" y="66.14" font-size="10" text-anchor="end" font-family="Liberation Sans, sans-serif" fill="#222" class="dk">6</text>
<text x="35.4" y="52.82" font-size="10" text-anchor="end" font-family="Liberation Sans, sans-serif" fill="#222" class="dk">8</text>
<text x="35.4" y="39.5" font-size="10" text-anchor="end" font-family="Liberation Sans, sans-serif" fill="#222" class="dk">10</text>
<text x="35.4" y="26.18" font-size="10" text-anchor="end" font-family="Liberation Sans, sans-serif" fill="#222" class="dk">12</text>
<text x="42.3" y="132.5" font-size="10.4" text-anchor="middle" font-family="Liberation Sans, sans-serif" fill="#222" class="dk">0</text>
<text x="103.63" y="132.5" font-size="10.4" text-anchor="middle" font-family="Liberation Sans, sans-serif" fill="#222" class="dk">2000</text>
<text x="164.97" y="132.5" font-size="10.4" text-anchor="middle" font-family="Liberation Sans, sans-serif" fill="#222" class="dk">4000</text>
<text x="226.3" y="132.5" font-size="10.4" text-anchor="middle" font-family="Liberation Sans, sans-serif" fill="#222" class="dk">6000</text>
<text x="133" y="148.1" font-size="9.4" text-anchor="middle" font-family="Liberation Sans, sans-serif" fill="#222" class="dk">N</text>
<text transform="translate(10.2 68.7) rotate(-90)" font-size="10" text-anchor="middle" font-family="Liberation Sans, sans-serif" fill="#222" class="dk">ΔG [eV/H<tspan font-size="7.5" dy="1.7">2</tspan><tspan dy="-1.7">O]</tspan></text>
<text x="238.5" y="12.9" font-size="15.5" font-family="Liberation Sans, sans-serif" fill="#111" class="dk">b.</text>
<g shape-rendering="crispEdges"><rect x="311" y="7" width="196" height="1" fill="url(#g0)"/><rect x="311" y="8" width="196" height="1" fill="url(#g1)"/><rect x="311" y="9" width="196" height="1" fill="url(#g2)"/><rect x="311" y="10" width="196" height="1" fill="url(#g3)"/><rect x="311" y="11" width="196" height="1" fill="url(#g4)"/><rect x="311" y="12" width="196" height="1" fill="url(#g5)"/><rect x="311" y="13" width="196" height="1" fill="url(#g6)"/><rect x="311" y="14" width="196" height="1" fill="url(#g7)"/><rect x="311" y="15" width="196" height="1" fill="url(#g8)"/><rect x="311" y="16" width="196" height="1" fill="url(#g9)"/><rect x="311" y="17" width="196" height="1" fill="url(#g10)"/><rect x="311" y="18" width="196" height="1" fill="url(#g11)"/><rect x="311" y="19" width="196" height="1" fill="url(#g12)"/><rect x="311" y="20" width="196" height="1" fill="url(#g13)"/><rect x="311" y="21" width="196" height="1" fill="url(#g14)"/><rect x="311" y="22" width="196" height="1" fill="url(#g15)"/><rect x="311" y="23" width="196" height="1" fill="url(#g16)"/><rect x="311" y="24" width="196" height="1" fill="url(#g17)"/><rect x="311" y="25" width="196" height="1" fill="url(#g18)"/><rect x="311" y="26" width="196" height="1" fill="url(#g19)"/><rect x="311" y="27" width="196" height="1" fill="url(#g20)"/><rect x="311" y="28" width="196" height="1" fill="url(#g21)"/><rect x="311" y="29" width="196" height="1" fill="url(#g22)"/><rect x="311" y="30" width="196" height="1" fill="url(#g23)"/><rect x="311" y="31" width="196" height="1" fill="url(#g24)"/><rect x="311" y="32" width="196" height="1" fill="url(#g25)"/><rect x="311" y="33" width="196" height="1" fill="url(#g26)"/><rect x="311" y="34" width="196" height="1" fill="url(#g27)"/><rect x="311" y="35" width="196" height="1" fill="url(#g28)"/><rect x="311" y="36" width="196" height="1" fill="url(#g29)"/><rect x="311" y="37" width="196" height="1" fill="url(#g30)"/><rect x="311" y="38" width="196" height="1" fill="url(#g31)"/><rect x="311" y="39" width="196" height="1" fill="url(#g32)"/><rect x="311" y="40" width="196" height="1" fill="url(#g33)"/><rect x="311" y="41" width="196" height="1" fill="url(#g34)"/><rect x="311" y="42" width="196" height="1" fill="url(#g35)"/><rect x="311" y="43" width="196" height="1" fill="url(#g36)"/><rect x="311" y="44" width="196" height="1" fill="url(#g37)"/><rect x="311" y="45" width="196" height="1" fill="url(#g38)"/><rect x="311" y="46" width="196" height="1" fill="url(#g39)"/><rect x="311" y="47" width="196" height="1" fill="url(#g40)"/><rect x="311" y="48" width="196" height="1" fill="url(#g41)"/><rect x="311" y="49" width="196" height="1" fill="url(#g42)"/><rect x="311" y="50" width="196" height="1" fill="url(#g43)"/><rect x="311" y="51" width="196" height="1" fill="url(#g44)"/><rect x="311" y="52" width="196" height="1" fill="url(#g45)"/><rect x="311" y="53" width="196" height="1" fill="url(#g46)"/><rect x="311" y="54" width="196" height="1" fill="url(#g47)"/><rect x="311" y="55" width="196" height="1" fill="url(#g48)"/><rect x="311" y="56" width="196" height="1" fill="url(#g49)"/><rect x="311" y="57" width="196" height="1" fill="url(#g50)"/><rect x="311" y="58" width="196" height="1" fill="url(#g51)"/><rect x="311" y="59" width="196" height="1" fill="url(#g52)"/><rect x="311" y="60" width="196" height="1" fill="url(#g53)"/><rect x="311" y="61" width="196" height="1" fill="url(#g54)"/><rect x="311" y="62" width="196" height="1" fill="url(#g55)"/><rect x="311" y="63" width="196" height="1" fill="url(#g56)"/><rect x="311" y="64" width="196" height="1" fill="url(#g57)"/><rect x="311" y="65" width="196" height="1" fill="url(#g58)"/><rect x="311" y="66" width="196" height="1" fill="url(#g59)"/><rect x="311" y="67" width="196" height="1" fill="url(#g60)"/><rect x="311" y="68" width="196" height="1" fill="url(#g61)"/><rect x="311" y="69" width="196" height="1" fill="url(#g62)"/><rect x="311" y="70" width="196" height="1" fill="url(#g63)"/><rect x="311" y="71" width="196" height="1" fill="url(#g64)"/><rect x="311" y="72" width="196" height="1" fill="url(#g65)"/><rect x="311" y="73" width="196" height="1" fill="url(#g66)"/><rect x="311" y="74" width="196" height="1" fill="url(#g67)"/><rect x="311" y="75" width="196" height="1" fill="url(#g68)"/><rect x="311" y="76" width="196" height="1" fill="url(#g69)"/><rect x="311" y="77" width="196" height="1" fill="url(#g70)"/><rect x="311" y="78" width="196" height="1" fill="url(#g71)"/><rect x="311" y="79" width="196" height="1" fill="url(#g72)"/><rect x="311" y="80" width="196" height="1" fill="url(#g73)"/><rect x="311" y="81" width="196" height="1" fill="url(#g74)"/><rect x="311" y="82" width="196" height="1" fill="url(#g75)"/><rect x="311" y="83" width="196" height="1" fill="url(#g76)"/><rect x="311" y="84" width="196" height="1" fill="url(#g77)"/><rect x="311" y="85" width="196" height="1" fill="url(#g78)"/><rect x="311" y="86" width="196" height="1" fill="url(#g79)"/><rect x="311" y="87" width="196" height="1" fill="url(#g80)"/><rect x="311" y="88" width="196" height="1" fill="url(#g81)"/><rect x="311" y="89" width="196" height="1" fill="url(#g82)"/><rect x="311" y="90" width="196" height="1" fill="url(#g83)"/><rect x="311" y="91" width="196" height="1" fill="url(#g84)"/><rect x="311" y="92" width="196" height="1" fill="url(#g85)"/><rect x="311" y="93" width="196" height="1" fill="url(#g86)"/><rect x="311" y="94" width="196" height="1" fill="url(#g87)"/><rect x="311" y="95" width="196" height="1" fill="url(#g88)"/><rect x="311" y="96" width="196" height="1" fill="url(#g89)"/><rect x="311" y="97" width="196" height="1" fill="url(#g90)"/><rect x="311" y="98" width="196" height="1" fill="url(#g91)"/><rect x="311" y="99" width="196" height="1" fill="url(#g92)"/><rect x="311" y="100" width="196" height="1" fill="url(#g93)"/><rect x="311" y="101" width="196" height="1" fill="url(#g94)"/><rect x="311" y="102" width="196" height="1" fill="url(#g95)"/><rect x="311" y="103" width="196" height="1" fill="url(#g96)"/><rect x="311" y="104" width="196" height="1" fill="url(#g97)"/><rect x="311" y="105" width="196" height="1" fill="url(#g98)"/><rect x="311" y="106" width="196" height="1" fill="url(#g99)"/><rect x="311" y="107" width="196" height="1" fill="url(#g100)"/><rect x="311" y="108" width="196" height="1" fill="url(#g101)"/><rect x="311" y="109" width="196" height="1" fill="url(#g102)"/><rect x="311" y="110" width="196" height="1" fill="url(#g103)"/><rect x="311" y="111" width="196" height="1" fill="url(#g104)"/><rect x="311" y="112" width="196" height="1" fill="url(#g105)"/><rect x="311" y="113" width="196" height="1" fill="url(#g106)"/><rect x="311" y="114" width="196" height="1" fill="url(#g107)"/><rect x="311" y="115" width="196" height="1" fill="url(#g108)"/><rect x="311" y="116" width="196" height="1" fill="url(#g109)"/><rect x="311" y="117" width="196" height="1" fill="url(#g110)"/><rect x="311" y="118" width="196" height="1" fill="url(#g111)"/><rect x="311" y="119" width="196" height="1" fill="url(#g112)"/><rect x="311" y="120" width="196" height="1" fill="url(#g113)"/><rect x="311" y="121" width="196" height="1" fill="url(#g114)"/><rect x="311" y="122" width="196" height="1" fill="url(#g115)"/><rect x="311" y="123" width="196" height="1" fill="url(#g116)"/><rect x="311" y="124" width="196" height="1" fill="url(#g117)"/><rect x="311" y="125" width="196" height="1" fill="url(#g118)"/><rect x="311" y="126" width="196" height="1" fill="url(#g119)"/><rect x="311" y="127" width="196" height="1" fill="url(#g120)"/></g>
<path d="M350 7.2 L350.93 8.15 L352.17 9.41 L353.65 10.9 L355.29 12.57 L357.02 14.33 L358.77 16.12 L360.45 17.87 L362 19.5 L363.44 21.06 L364.86 22.65 L366.27 24.25 L367.67 25.84 L369.06 27.43 L370.46 28.99 L371.87 30.52 L373.3 32 L374.74 33.43 L376.2 34.82 L377.66 36.17 L379.13 37.5 L380.59 38.82 L382.07 40.13 L383.53 41.46 L385 42.8 L386.45 44.15 L387.89 45.51 L389.32 46.86 L390.75 48.22 L392.2 49.58 L393.66 50.94 L395.16 52.32 L396.7 53.7 L398.3 55.11 L399.97 56.57 L401.67 58.04 L403.39 59.51 L405.11 60.96 L406.8 62.38 L408.44 63.73 L410 65 L411.49 66.19 L412.91 67.31 L414.29 68.38 L415.64 69.41 L416.98 70.4 L418.3 71.37 L419.64 72.34 L421 73.3 L422.45 74.3 L424.01 75.35 L425.61 76.4 L427.19 77.42 L428.68 78.38 L430.02 79.23 L431.15 79.95 L432 80.5" fill="none" stroke="#f7dfae" stroke-width="2.2" opacity="0.25" transform="translate(2.2 0)"/>
<path d="M350 7.2 L350.93 8.15 L352.17 9.41 L353.65 10.9 L355.29 12.57 L357.02 14.33 L358.77 16.12 L360.45 17.87 L362 19.5 L363.44 21.06 L364.86 22.65 L366.27 24.25 L367.67 25.84 L369.06 27.43 L370.46 28.99 L371.87 30.52 L373.3 32 L374.74 33.43 L376.2 34.82 L377.66 36.17 L379.13 37.5 L380.59 38.82 L382.07 40.13 L383.53 41.46 L385 42.8 L386.45 44.15 L387.89 45.51 L389.32 46.86 L390.75 48.22 L392.2 49.58 L393.66 50.94 L395.16 52.32 L396.7 53.7 L398.3 55.11 L399.97 56.57 L401.67 58.04 L403.39 59.51 L405.11 60.96 L406.8 62.38 L408.44 63.73 L410 65 L411.49 66.19 L412.91 67.31 L414.29 68.38 L415.64 69.41 L416.98 70.4 L418.3 71.37 L419.64 72.34 L421 73.3 L422.45 74.3 L424.01 75.35 L425.61 76.4 L427.19 77.42 L428.68 78.38 L430.02 79.23 L431.15 79.95 L432 80.5" fill="none" stroke="#f7dfae" stroke-width="1.3" opacity="0.85"/>
<path d="M428 78 L428.6 78.4 L429.37 78.94 L430.28 79.57 L431.31 80.28 L432.43 81.04 L433.6 81.81 L434.8 82.57 L436 83.3 L437.22 84.01 L438.49 84.72 L439.82 85.45 L441.19 86.19 L442.6 86.93 L444.04 87.68 L445.51 88.44 L447 89.2 L448.51 89.96 L450.05 90.71 L451.62 91.47 L453.22 92.23 L454.85 93.01 L456.53 93.81 L458.24 94.64 L460 95.5 L461.82 96.42 L463.72 97.39 L465.67 98.41 L467.66 99.44 L469.65 100.46 L471.64 101.46 L473.59 102.42 L475.5 103.3 L477.34 104.1 L479.14 104.84 L480.9 105.53 L482.66 106.2 L484.42 106.86 L486.22 107.53 L488.07 108.24 L490 109 L492.12 109.86 L494.47 110.82 L496.94 111.84 L499.41 112.86 L501.76 113.83 L503.89 114.71 L505.67 115.45 L507 116" fill="none" stroke="#fff0d0" stroke-width="1" opacity="0.35" transform="translate(0.6 -1.6)"/>
<path d="M428 78 L428.6 78.4 L429.37 78.94 L430.28 79.57 L431.31 80.28 L432.43 81.04 L433.6 81.81 L434.8 82.57 L436 83.3 L437.22 84.01 L438.49 84.72 L439.82 85.45 L441.19 86.19 L442.6 86.93 L444.04 87.68 L445.51 88.44 L447 89.2 L448.51 89.96 L450.05 90.71 L451.62 91.47 L453.22 92.23 L454.85 93.01 L456.53 93.81 L458.24 94.64 L460 95.5 L461.82 96.42 L463.72 97.39 L465.67 98.41 L467.66 99.44 L469.65 100.46 L471.64 101.46 L473.59 102.42 L475.5 103.3 L477.34 104.1 L479.14 104.84 L480.9 105.53 L482.66 106.2 L484.42 106.86 L486.22 107.53 L488.07 108.24 L490 109 L492.12 109.86 L494.47 110.82 L496.94 111.84 L499.41 112.86 L501.76 113.83 L503.89 114.71 L505.67 115.45 L507 116" fill="none" stroke="#8a6a3a" stroke-width="0.9" opacity="0.75"/>
<path d="M404 7.2 L405.08 8.15 L406.52 9.42 L408.22 10.92 L410.12 12.6 L412.13 14.37 L414.17 16.16 L416.15 17.89 L418 19.5 L419.74 21 L421.45 22.49 L423.16 23.96 L424.88 25.43 L426.6 26.9 L428.36 28.4 L430.15 29.93 L432 31.5 L433.89 33.1 L435.81 34.72 L437.77 36.36 L439.75 38.03 L441.77 39.73 L443.81 41.45 L445.89 43.21 L448 45 L450.14 46.83 L452.31 48.71 L454.52 50.62 L456.75 52.56 L459.02 54.53 L461.31 56.51 L463.64 58.5 L466 60.5 L468.54 62.63 L471.33 64.94 L474.23 67.34 L477.12 69.72 L479.88 71.98 L482.36 74.01 L484.44 75.72 L486 77" fill="none" stroke="#fbeccc" stroke-width="1" opacity="0.45"/>
<path d="M485 78 L496 84.5 L507 91" fill="none" stroke="#6b5a3a" stroke-width="0.9" opacity="0.8"/>
<path d="M355.4 128 L356.89 125.6 L359.03 122.13 L361.38 118.47 L363.5 115.5 L365.27 113.45 L366.93 111.86 L368.55 110.56 L370.2 109.4 L371.9 108.37 L373.61 107.55 L375.31 106.88 L377 106.3 L378.66 105.83 L380.3 105.47 L381.94 105.21 L383.6 105 L385.29 104.84 L387 104.75 L388.71 104.71 L390.4 104.7 L392 104.72 L393.53 104.78 L395.15 104.88 L397 105 L399.14 105.15 L401.49 105.33 L403.97 105.55 L406.5 105.8 L409.22 106.11 L412.11 106.48 L414.89 106.86 L417.3 107.2 L419 107.43 L420.23 107.6 L421.54 107.84 L423.5 108.3 L426.36 109.05 L429.8 110.01 L433.46 111.07 L437 112.1 L440.36 113.11 L443.71 114.14 L447.05 115.17 L450.4 116.2 L453.81 117.22 L457.26 118.24 L460.63 119.24 L463.8 120.2 L466.81 121.12 L469.7 122.02 L472.34 122.86 L474.6 123.6 L476.32 124.19 L477.6 124.67 L478.73 125.12 L480 125.6 L481.6 126.19 L483.34 126.82 L484.91 127.4 L486 127.8" fill="none" stroke="#f6d29c" stroke-width="1.2" opacity="0.9"/>
<line x1="312.0" y1="104" x2="507.0" y2="104" stroke="#4a3010" stroke-width="1.1" stroke-dasharray="1.3 1.8"/>
<path d="M311.0 127.8 h4.5 M507.0 127.8 h-4.5 M311.0 115.74 h3 M507.0 115.74 h-3 M311.0 103.68 h4.5 M507.0 103.68 h-4.5 M311.0 91.62 h3 M507.0 91.62 h-3 M311.0 79.56 h4.5 M507.0 79.56 h-4.5 M311.0 67.5 h3 M507.0 67.5 h-3 M311.0 55.44 h4.5 M507.0 55.44 h-4.5 M311.0 43.38 h3 M507.0 43.38 h-3 M311.0 31.32 h4.5 M507.0 31.32 h-4.5 M311.0 19.26 h3 M507.0 19.26 h-3 M311.0 7.2 h4.5 M507.0 7.2 h-4.5 M311 127.8 v-6.3 M311 7.2 v6.3 M327.33 127.8 v-4.8 M327.33 7.2 v4.8 M343.67 127.8 v-6.3 M343.67 7.2 v6.3 M360 127.8 v-4.8 M360 7.2 v4.8 M376.33 127.8 v-6.3 M376.33 7.2 v6.3 M392.67 127.8 v-4.8 M392.67 7.2 v4.8 M409 127.8 v-6.3 M409 7.2 v6.3 M425.33 127.8 v-4.8 M425.33 7.2 v4.8 M441.67 127.8 v-6.3 M441.67 7.2 v6.3 M458 127.8 v-4.8 M458 7.2 v4.8 M474.33 127.8 v-6.3 M474.33 7.2 v6.3 M490.67 127.8 v-4.8 M490.67 7.2 v4.8 M507 127.8 v-6.3 M507 7.2 v6.3" stroke="#3a2a10" stroke-width="0.9" fill="none" opacity="0.7"/>
<rect x="311.4" y="7.6" width="195.2" height="119.8" fill="none" stroke="#2a2a30" stroke-width="0.9" opacity="0.3"/>
<text x="302.8" y="132" font-size="10" text-anchor="end" font-family="Liberation Sans, sans-serif" fill="#222" class="dk">250</text>
<text x="302.8" y="107.88" font-size="10" text-anchor="end" font-family="Liberation Sans, sans-serif" fill="#222" class="dk">300</text>
<text x="302.8" y="83.76" font-size="10" text-anchor="end" font-family="Liberation Sans, sans-serif" fill="#222" class="dk">350</text>
<text x="302.8" y="59.64" font-size="10" text-anchor="end" font-family="Liberation Sans, sans-serif" fill="#222" class="dk">400</text>
<text x="302.8" y="35.52" font-size="10" text-anchor="end" font-family="Liberation Sans, sans-serif" fill="#222" class="dk">450</text>
<text x="302.8" y="11.4" font-size="10" text-anchor="end" font-family="Liberation Sans, sans-serif" fill="#222" class="dk">500</text>
<text x="312.5" y="146.5" font-size="10.4" text-anchor="middle" font-family="Liberation Sans, sans-serif" fill="#222" class="dk">0</text>
<text x="345.17" y="146.5" font-size="10.4" text-anchor="middle" font-family="Liberation Sans, sans-serif" fill="#222" class="dk">500</text>
<text x="377.83" y="146.5" font-size="10.4" text-anchor="middle" font-family="Liberation Sans, sans-serif" fill="#222" class="dk">1000</text>
<text x="410.5" y="146.5" font-size="10.4" text-anchor="middle" font-family="Liberation Sans, sans-serif" fill="#222" class="dk">1500</text>
<text x="443.17" y="146.5" font-size="10.4" text-anchor="middle" font-family="Liberation Sans, sans-serif" fill="#222" class="dk">2000</text>
<text x="475.83" y="146.5" font-size="10.4" text-anchor="middle" font-family="Liberation Sans, sans-serif" fill="#222" class="dk">2500</text>
<text x="508.5" y="146.5" font-size="10.4" text-anchor="middle" font-family="Liberation Sans, sans-serif" fill="#222" class="dk">3000</text>
<text x="408.3" y="162.6" font-size="9.6" text-anchor="middle" font-family="Liberation Sans, sans-serif" fill="#222" class="dk">N</text>
<text transform="translate(279.6 67.5) rotate(-90)" font-size="10.5" text-anchor="middle" textLength="72.4" lengthAdjust="spacingAndGlyphs" font-family="Liberation Sans, sans-serif" fill="#222" class="dk">temperature [K]</text>
<text x="334.8" y="80" font-size="8.8" font-family="Liberation Sans, sans-serif" fill="#fff6e6" stroke="#fff6e6" stroke-width="0.35">Sql favored</text>
<text x="379.6" y="120.8" font-size="8.9" font-family="Liberation Sans, sans-serif" fill="#fff6e6" stroke="#fff6e6" stroke-width="0.35">Stable Sql</text>
<text x="452.5" y="36.6" font-size="8.8" font-family="Liberation Sans, sans-serif" fill="#f4fbf8" stroke="#f4fbf8" stroke-width="0.35" opacity="0.92">Sql unstable</text>
<text transform="translate(422.6 57.6) rotate(37.4)" font-size="8.8" text-anchor="middle" dy="3" font-family="Liberation Sans, sans-serif" fill="#fff6e6" stroke="#fff6e6" stroke-width="0.35">EWD favored</text>
<text x="153" y="176" font-size="15.5" font-family="Liberation Sans, sans-serif" fill="#111" class="dk">c.</text>
<text x="240.3" y="190.9" font-size="10.85" font-family="Liberation Sans, sans-serif" fill="#111" class="dk">Sql melting temperature</text>
<path d="M202.0 229.8 H275.6 V266" fill="none" stroke="#4a4a4a" stroke-width="1" stroke-dasharray="1 2"/>
<path d="M200.8 174.5 L201.47 175.43 L202.34 176.66 L203.37 178.12 L204.53 179.74 L205.77 181.47 L207.08 183.24 L208.4 184.97 L209.7 186.6 L211.02 188.2 L212.41 189.85 L213.85 191.54 L215.32 193.22 L216.82 194.89 L218.33 196.51 L219.83 198.05 L221.3 199.5 L222.76 200.85 L224.22 202.13 L225.68 203.35 L227.15 204.52 L228.62 205.64 L230.08 206.72 L231.54 207.77 L233 208.8 L234.45 209.79 L235.9 210.74 L237.35 211.65 L238.8 212.52 L240.25 213.36 L241.7 214.19 L243.15 215 L244.6 215.8 L246.06 216.59 L247.52 217.36 L248.98 218.11 L250.44 218.84 L251.91 219.56 L253.37 220.26 L254.84 220.94 L256.3 221.6 L257.76 222.24 L259.22 222.86 L260.67 223.46 L262.13 224.04 L263.59 224.61 L265.05 225.17 L266.52 225.73 L268 226.3 L269.42 226.84 L270.76 227.34 L272.07 227.82 L273.41 228.3 L274.81 228.81 L276.35 229.36 L278.06 229.98 L280 230.7 L282.21 231.54 L284.66 232.48 L287.28 233.5 L290.03 234.57 L292.85 235.64 L295.69 236.7 L298.49 237.69 L301.2 238.6 L303.84 239.42 L306.48 240.2 L309.12 240.94 L311.75 241.64 L314.38 242.33 L317.02 242.99 L319.66 243.65 L322.3 244.3 L324.95 244.95 L327.6 245.59 L330.25 246.21 L332.9 246.82 L335.55 247.41 L338.2 247.99 L340.85 248.55 L343.5 249.1 L346.19 249.64 L348.94 250.16 L351.71 250.68 L354.47 251.18 L357.18 251.66 L359.8 252.11 L362.28 252.52 L364.6 252.9 L366.82 253.24 L369.01 253.55 L371.12 253.84 L373.12 254.09 L374.95 254.31 L376.57 254.5 L377.93 254.67 L379 254.8" fill="none" stroke="#ad8bd0" stroke-width="1.15"/>
<path d="M201.0 172.3 V265.5 H378.5" fill="none" stroke="#3a3a3a" stroke-width="1.2"/>
<path d="M201.0 265.5 h4.5 M201.0 256.18 h2.2 M201.0 246.86 h4.5 M201.0 237.54 h2.2 M201.0 228.22 h4.5 M201.0 218.9 h2.2 M201.0 209.58 h4.5 M201.0 200.26 h2.2 M201.0 190.94 h4.5 M201.0 181.62 h2.2 M201.0 172.3 h4.5 M228.93 265.5 v2.2 M258.86 265.5 v3.2 M288.79 265.5 v2.2 M318.72 265.5 v3.2 M348.65 265.5 v2.2 M378.58 265.5 v3.2" stroke="#3a3a3a" stroke-width="1.1" fill="none"/>
<text x="194.4" y="269.5" font-size="10" text-anchor="end" font-family="Liberation Sans, sans-serif" fill="#222" class="dk">100</text>
<text x="194.4" y="250.86" font-size="10" text-anchor="end" font-family="Liberation Sans, sans-serif" fill="#222" class="dk">200</text>
<text x="194.4" y="232.22" font-size="10" text-anchor="end" font-family="Liberation Sans, sans-serif" fill="#222" class="dk">300</text>
<text x="194.4" y="213.58" font-size="10" text-anchor="end" font-family="Liberation Sans, sans-serif" fill="#222" class="dk">400</text>
<text x="194.4" y="194.94" font-size="10" text-anchor="end" font-family="Liberation Sans, sans-serif" fill="#222" class="dk">500</text>
<text x="194.4" y="176.3" font-size="10" text-anchor="end" font-family="Liberation Sans, sans-serif" fill="#222" class="dk">600</text>
<text x="259.46" y="283.8" font-size="10.4" text-anchor="middle" font-family="Liberation Sans, sans-serif" fill="#222" class="dk">2000</text>
<text x="319.32" y="283.8" font-size="10.4" text-anchor="middle" font-family="Liberation Sans, sans-serif" fill="#222" class="dk">4000</text>
<text x="379.18" y="283.8" font-size="10.4" text-anchor="middle" font-family="Liberation Sans, sans-serif" fill="#222" class="dk">6000</text>
<text x="289.8" y="299" font-size="9.4" text-anchor="middle" font-family="Liberation Sans, sans-serif" fill="#222" class="dk">N</text>
<text transform="translate(163.5 219.2) rotate(-90)" font-size="10.6" text-anchor="middle" font-family="Liberation Sans, sans-serif" fill="#222" class="dk">T<tspan font-size="8" dy="2.3">m</tspan><tspan dy="-2.3"> [K]</tspan></text>
</svg>
</body></html>
